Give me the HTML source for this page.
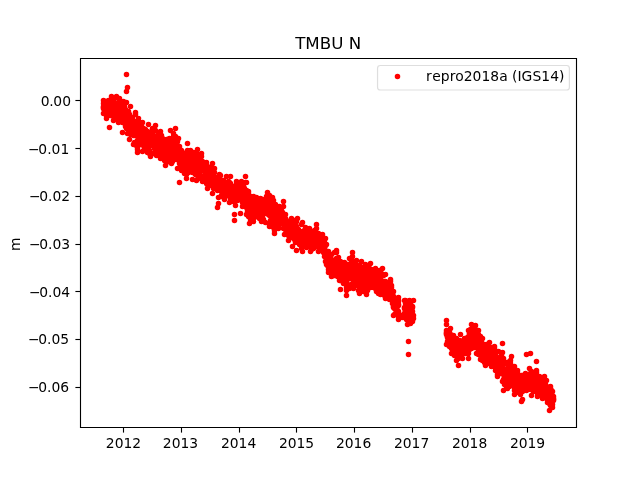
<!DOCTYPE html>
<html lang="en"><head><meta charset="utf-8"><title>TMBU N</title>
<style>
html,body{margin:0;padding:0;background:#fff}
body{width:640px;height:480px;overflow:hidden}
svg{display:block;will-change:transform}
text{font-family:"DejaVu Sans","Liberation Sans",sans-serif;fill:#000}
.t10{font-size:13.889px}
.t12{font-size:16.667px}
</style></head><body>
<svg width="640" height="480" viewBox="0 0 640 480">
<rect width="640" height="480" fill="#fff"/>
<defs><clipPath id="c"><rect x="80" y="57.6" width="496" height="369.6"/></clipPath></defs>
<g class="pt" clip-path="url(#c)" fill="#f00" stroke="#f00" stroke-width="1.389">
<circle cx="103.5" cy="103.5" r="2.08"/><circle cx="103.5" cy="107.5" r="2.08"/><circle cx="103.5" cy="108.5" r="2.08"/><circle cx="103.5" cy="106.5" r="2.08"/><circle cx="104.5" cy="110.5" r="2.08"/><circle cx="104.5" cy="106.5" r="2.08"/>
<circle cx="104.5" cy="104.5" r="2.08"/><circle cx="104.5" cy="107.5" r="2.08"/><circle cx="104.5" cy="109.5" r="2.08"/><circle cx="104.5" cy="108.5" r="2.08"/><circle cx="105.5" cy="110.5" r="2.08"/><circle cx="105.5" cy="109.5" r="2.08"/>
<circle cx="105.5" cy="104.5" r="2.08"/><circle cx="106.5" cy="108.5" r="2.08"/><circle cx="106.5" cy="111.5" r="2.08"/><circle cx="106.5" cy="115.5" r="2.08"/><circle cx="106.5" cy="109.5" r="2.08"/><circle cx="106.5" cy="113.5" r="2.08"/>
<circle cx="106.5" cy="103.5" r="2.08"/><circle cx="107.5" cy="107.5" r="2.08"/><circle cx="107.5" cy="110.5" r="2.08"/><circle cx="107.5" cy="103.5" r="2.08"/><circle cx="107.5" cy="106.5" r="2.08"/><circle cx="107.5" cy="111.5" r="2.08"/>
<circle cx="108.5" cy="110.5" r="2.08"/><circle cx="108.5" cy="107.5" r="2.08"/><circle cx="108.5" cy="106.5" r="2.08"/><circle cx="108.5" cy="115.5" r="2.08"/><circle cx="108.5" cy="112.5" r="2.08"/><circle cx="108.5" cy="114.5" r="2.08"/>
<circle cx="109.5" cy="103.5" r="2.08"/><circle cx="109.5" cy="113.5" r="2.08"/><circle cx="109.5" cy="112.5" r="2.08"/><circle cx="109.5" cy="110.5" r="2.08"/><circle cx="109.5" cy="104.5" r="2.08"/><circle cx="109.5" cy="107.5" r="2.08"/>
<circle cx="109.5" cy="111.5" r="2.08"/><circle cx="110.5" cy="104.5" r="2.08"/><circle cx="110.5" cy="107.5" r="2.08"/><circle cx="110.5" cy="105.5" r="2.08"/><circle cx="110.5" cy="115.5" r="2.08"/><circle cx="110.5" cy="109.5" r="2.08"/>
<circle cx="111.5" cy="104.5" r="2.08"/><circle cx="111.5" cy="106.5" r="2.08"/><circle cx="111.5" cy="115.5" r="2.08"/><circle cx="111.5" cy="114.5" r="2.08"/><circle cx="111.5" cy="110.5" r="2.08"/><circle cx="111.5" cy="113.5" r="2.08"/>
<circle cx="112.5" cy="107.5" r="2.08"/><circle cx="112.5" cy="108.5" r="2.08"/><circle cx="112.5" cy="114.5" r="2.08"/><circle cx="112.5" cy="105.5" r="2.08"/><circle cx="112.5" cy="112.5" r="2.08"/><circle cx="112.5" cy="100.5" r="2.08"/>
<circle cx="112.5" cy="111.5" r="2.08"/><circle cx="113.5" cy="116.5" r="2.08"/><circle cx="113.5" cy="111.5" r="2.08"/><circle cx="113.5" cy="100.5" r="2.08"/><circle cx="113.5" cy="114.5" r="2.08"/><circle cx="113.5" cy="109.5" r="2.08"/>
<circle cx="114.5" cy="107.5" r="2.08"/><circle cx="114.5" cy="103.5" r="2.08"/><circle cx="114.5" cy="114.5" r="2.08"/><circle cx="114.5" cy="108.5" r="2.08"/><circle cx="114.5" cy="113.5" r="2.08"/><circle cx="115.5" cy="104.5" r="2.08"/>
<circle cx="115.5" cy="107.5" r="2.08"/><circle cx="115.5" cy="109.5" r="2.08"/><circle cx="115.5" cy="110.5" r="2.08"/><circle cx="115.5" cy="113.5" r="2.08"/><circle cx="116.5" cy="112.5" r="2.08"/><circle cx="116.5" cy="111.5" r="2.08"/>
<circle cx="116.5" cy="109.5" r="2.08"/><circle cx="116.5" cy="106.5" r="2.08"/><circle cx="117.5" cy="117.5" r="2.08"/><circle cx="117.5" cy="114.5" r="2.08"/><circle cx="117.5" cy="108.5" r="2.08"/><circle cx="117.5" cy="112.5" r="2.08"/>
<circle cx="117.5" cy="119.5" r="2.08"/><circle cx="117.5" cy="116.5" r="2.08"/><circle cx="118.5" cy="102.5" r="2.08"/><circle cx="118.5" cy="107.5" r="2.08"/><circle cx="118.5" cy="110.5" r="2.08"/><circle cx="118.5" cy="109.5" r="2.08"/>
<circle cx="118.5" cy="103.5" r="2.08"/><circle cx="118.5" cy="114.5" r="2.08"/><circle cx="119.5" cy="112.5" r="2.08"/><circle cx="119.5" cy="107.5" r="2.08"/><circle cx="119.5" cy="118.5" r="2.08"/><circle cx="119.5" cy="110.5" r="2.08"/>
<circle cx="119.5" cy="114.5" r="2.08"/><circle cx="119.5" cy="108.5" r="2.08"/><circle cx="120.5" cy="107.5" r="2.08"/><circle cx="120.5" cy="119.5" r="2.08"/><circle cx="120.5" cy="111.5" r="2.08"/><circle cx="120.5" cy="112.5" r="2.08"/>
<circle cx="120.5" cy="117.5" r="2.08"/><circle cx="120.5" cy="110.5" r="2.08"/><circle cx="121.5" cy="116.5" r="2.08"/><circle cx="121.5" cy="111.5" r="2.08"/><circle cx="121.5" cy="115.5" r="2.08"/><circle cx="121.5" cy="117.5" r="2.08"/>
<circle cx="121.5" cy="112.5" r="2.08"/><circle cx="121.5" cy="102.5" r="2.08"/><circle cx="122.5" cy="113.5" r="2.08"/><circle cx="122.5" cy="114.5" r="2.08"/><circle cx="122.5" cy="122.5" r="2.08"/><circle cx="122.5" cy="120.5" r="2.08"/>
<circle cx="122.5" cy="116.5" r="2.08"/><circle cx="123.5" cy="118.5" r="2.08"/><circle cx="123.5" cy="109.5" r="2.08"/><circle cx="123.5" cy="117.5" r="2.08"/><circle cx="123.5" cy="104.5" r="2.08"/><circle cx="123.5" cy="116.5" r="2.08"/>
<circle cx="123.5" cy="120.5" r="2.08"/><circle cx="124.5" cy="113.5" r="2.08"/><circle cx="124.5" cy="106.5" r="2.08"/><circle cx="124.5" cy="121.5" r="2.08"/><circle cx="124.5" cy="118.5" r="2.08"/><circle cx="124.5" cy="115.5" r="2.08"/>
<circle cx="124.5" cy="110.5" r="2.08"/><circle cx="124.5" cy="116.5" r="2.08"/><circle cx="125.5" cy="126.5" r="2.08"/><circle cx="125.5" cy="115.5" r="2.08"/><circle cx="125.5" cy="124.5" r="2.08"/><circle cx="125.5" cy="109.5" r="2.08"/>
<circle cx="126.5" cy="116.5" r="2.08"/><circle cx="126.5" cy="128.5" r="2.08"/><circle cx="126.5" cy="111.5" r="2.08"/><circle cx="126.5" cy="123.5" r="2.08"/><circle cx="126.5" cy="115.5" r="2.08"/><circle cx="126.5" cy="124.5" r="2.08"/>
<circle cx="127.5" cy="133.5" r="2.08"/><circle cx="127.5" cy="124.5" r="2.08"/><circle cx="127.5" cy="115.5" r="2.08"/><circle cx="127.5" cy="121.5" r="2.08"/><circle cx="127.5" cy="119.5" r="2.08"/><circle cx="128.5" cy="111.5" r="2.08"/>
<circle cx="128.5" cy="113.5" r="2.08"/><circle cx="128.5" cy="119.5" r="2.08"/><circle cx="128.5" cy="125.5" r="2.08"/><circle cx="128.5" cy="128.5" r="2.08"/><circle cx="129.5" cy="128.5" r="2.08"/><circle cx="129.5" cy="114.5" r="2.08"/>
<circle cx="129.5" cy="127.5" r="2.08"/><circle cx="129.5" cy="116.5" r="2.08"/><circle cx="129.5" cy="119.5" r="2.08"/><circle cx="129.5" cy="117.5" r="2.08"/><circle cx="130.5" cy="119.5" r="2.08"/><circle cx="130.5" cy="120.5" r="2.08"/>
<circle cx="130.5" cy="132.5" r="2.08"/><circle cx="130.5" cy="134.5" r="2.08"/><circle cx="130.5" cy="124.5" r="2.08"/><circle cx="130.5" cy="125.5" r="2.08"/><circle cx="130.5" cy="126.5" r="2.08"/><circle cx="131.5" cy="126.5" r="2.08"/>
<circle cx="131.5" cy="128.5" r="2.08"/><circle cx="131.5" cy="117.5" r="2.08"/><circle cx="131.5" cy="125.5" r="2.08"/><circle cx="131.5" cy="127.5" r="2.08"/><circle cx="131.5" cy="122.5" r="2.08"/><circle cx="132.5" cy="127.5" r="2.08"/>
<circle cx="132.5" cy="119.5" r="2.08"/><circle cx="132.5" cy="117.5" r="2.08"/><circle cx="132.5" cy="122.5" r="2.08"/><circle cx="132.5" cy="124.5" r="2.08"/><circle cx="132.5" cy="131.5" r="2.08"/><circle cx="133.5" cy="133.5" r="2.08"/>
<circle cx="133.5" cy="123.5" r="2.08"/><circle cx="133.5" cy="124.5" r="2.08"/><circle cx="133.5" cy="135.5" r="2.08"/><circle cx="134.5" cy="121.5" r="2.08"/><circle cx="134.5" cy="135.5" r="2.08"/><circle cx="134.5" cy="131.5" r="2.08"/>
<circle cx="134.5" cy="142.5" r="2.08"/><circle cx="134.5" cy="126.5" r="2.08"/><circle cx="135.5" cy="128.5" r="2.08"/><circle cx="135.5" cy="133.5" r="2.08"/><circle cx="135.5" cy="127.5" r="2.08"/><circle cx="135.5" cy="114.5" r="2.08"/>
<circle cx="135.5" cy="129.5" r="2.08"/><circle cx="136.5" cy="124.5" r="2.08"/><circle cx="136.5" cy="131.5" r="2.08"/><circle cx="136.5" cy="128.5" r="2.08"/><circle cx="136.5" cy="132.5" r="2.08"/><circle cx="136.5" cy="134.5" r="2.08"/>
<circle cx="136.5" cy="145.5" r="2.08"/><circle cx="137.5" cy="145.5" r="2.08"/><circle cx="137.5" cy="146.5" r="2.08"/><circle cx="137.5" cy="147.5" r="2.08"/><circle cx="137.5" cy="149.5" r="2.08"/><circle cx="137.5" cy="140.5" r="2.08"/>
<circle cx="137.5" cy="124.5" r="2.08"/><circle cx="138.5" cy="139.5" r="2.08"/><circle cx="138.5" cy="137.5" r="2.08"/><circle cx="138.5" cy="131.5" r="2.08"/><circle cx="138.5" cy="130.5" r="2.08"/><circle cx="138.5" cy="138.5" r="2.08"/>
<circle cx="138.5" cy="121.5" r="2.08"/><circle cx="139.5" cy="139.5" r="2.08"/><circle cx="139.5" cy="135.5" r="2.08"/><circle cx="139.5" cy="132.5" r="2.08"/><circle cx="139.5" cy="128.5" r="2.08"/><circle cx="139.5" cy="140.5" r="2.08"/>
<circle cx="139.5" cy="136.5" r="2.08"/><circle cx="140.5" cy="129.5" r="2.08"/><circle cx="140.5" cy="130.5" r="2.08"/><circle cx="140.5" cy="134.5" r="2.08"/><circle cx="140.5" cy="144.5" r="2.08"/><circle cx="140.5" cy="123.5" r="2.08"/>
<circle cx="140.5" cy="141.5" r="2.08"/><circle cx="141.5" cy="130.5" r="2.08"/><circle cx="141.5" cy="137.5" r="2.08"/><circle cx="141.5" cy="133.5" r="2.08"/><circle cx="141.5" cy="135.5" r="2.08"/><circle cx="141.5" cy="131.5" r="2.08"/>
<circle cx="141.5" cy="125.5" r="2.08"/><circle cx="142.5" cy="128.5" r="2.08"/><circle cx="142.5" cy="143.5" r="2.08"/><circle cx="142.5" cy="138.5" r="2.08"/><circle cx="142.5" cy="130.5" r="2.08"/><circle cx="142.5" cy="140.5" r="2.08"/>
<circle cx="142.5" cy="135.5" r="2.08"/><circle cx="143.5" cy="133.5" r="2.08"/><circle cx="143.5" cy="134.5" r="2.08"/><circle cx="143.5" cy="145.5" r="2.08"/><circle cx="143.5" cy="132.5" r="2.08"/><circle cx="143.5" cy="135.5" r="2.08"/>
<circle cx="143.5" cy="128.5" r="2.08"/><circle cx="144.5" cy="145.5" r="2.08"/><circle cx="144.5" cy="136.5" r="2.08"/><circle cx="144.5" cy="148.5" r="2.08"/><circle cx="144.5" cy="143.5" r="2.08"/><circle cx="144.5" cy="130.5" r="2.08"/>
<circle cx="144.5" cy="147.5" r="2.08"/><circle cx="145.5" cy="139.5" r="2.08"/><circle cx="145.5" cy="141.5" r="2.08"/><circle cx="145.5" cy="132.5" r="2.08"/><circle cx="145.5" cy="129.5" r="2.08"/><circle cx="145.5" cy="142.5" r="2.08"/>
<circle cx="145.5" cy="140.5" r="2.08"/><circle cx="146.5" cy="138.5" r="2.08"/><circle cx="146.5" cy="150.5" r="2.08"/><circle cx="146.5" cy="137.5" r="2.08"/><circle cx="146.5" cy="133.5" r="2.08"/><circle cx="146.5" cy="142.5" r="2.08"/>
<circle cx="146.5" cy="139.5" r="2.08"/><circle cx="147.5" cy="138.5" r="2.08"/><circle cx="147.5" cy="136.5" r="2.08"/><circle cx="147.5" cy="151.5" r="2.08"/><circle cx="147.5" cy="131.5" r="2.08"/><circle cx="147.5" cy="152.5" r="2.08"/>
<circle cx="147.5" cy="134.5" r="2.08"/><circle cx="148.5" cy="146.5" r="2.08"/><circle cx="148.5" cy="134.5" r="2.08"/><circle cx="148.5" cy="133.5" r="2.08"/><circle cx="148.5" cy="140.5" r="2.08"/><circle cx="148.5" cy="144.5" r="2.08"/>
<circle cx="149.5" cy="150.5" r="2.08"/><circle cx="149.5" cy="151.5" r="2.08"/><circle cx="149.5" cy="140.5" r="2.08"/><circle cx="149.5" cy="141.5" r="2.08"/><circle cx="149.5" cy="153.5" r="2.08"/><circle cx="149.5" cy="135.5" r="2.08"/>
<circle cx="149.5" cy="145.5" r="2.08"/><circle cx="150.5" cy="142.5" r="2.08"/><circle cx="150.5" cy="133.5" r="2.08"/><circle cx="150.5" cy="137.5" r="2.08"/><circle cx="150.5" cy="145.5" r="2.08"/><circle cx="150.5" cy="132.5" r="2.08"/>
<circle cx="151.5" cy="145.5" r="2.08"/><circle cx="151.5" cy="141.5" r="2.08"/><circle cx="151.5" cy="137.5" r="2.08"/><circle cx="152.5" cy="138.5" r="2.08"/><circle cx="152.5" cy="144.5" r="2.08"/><circle cx="152.5" cy="128.5" r="2.08"/>
<circle cx="152.5" cy="129.5" r="2.08"/><circle cx="152.5" cy="142.5" r="2.08"/><circle cx="152.5" cy="153.5" r="2.08"/><circle cx="153.5" cy="140.5" r="2.08"/><circle cx="153.5" cy="136.5" r="2.08"/><circle cx="153.5" cy="131.5" r="2.08"/>
<circle cx="153.5" cy="138.5" r="2.08"/><circle cx="153.5" cy="144.5" r="2.08"/><circle cx="153.5" cy="153.5" r="2.08"/><circle cx="154.5" cy="142.5" r="2.08"/><circle cx="154.5" cy="137.5" r="2.08"/><circle cx="154.5" cy="140.5" r="2.08"/>
<circle cx="154.5" cy="144.5" r="2.08"/><circle cx="154.5" cy="148.5" r="2.08"/><circle cx="154.5" cy="138.5" r="2.08"/><circle cx="155.5" cy="138.5" r="2.08"/><circle cx="155.5" cy="149.5" r="2.08"/><circle cx="155.5" cy="142.5" r="2.08"/>
<circle cx="155.5" cy="130.5" r="2.08"/><circle cx="155.5" cy="144.5" r="2.08"/><circle cx="155.5" cy="137.5" r="2.08"/><circle cx="155.5" cy="140.5" r="2.08"/><circle cx="156.5" cy="136.5" r="2.08"/><circle cx="156.5" cy="141.5" r="2.08"/>
<circle cx="156.5" cy="143.5" r="2.08"/><circle cx="156.5" cy="144.5" r="2.08"/><circle cx="156.5" cy="155.5" r="2.08"/><circle cx="157.5" cy="138.5" r="2.08"/><circle cx="157.5" cy="143.5" r="2.08"/><circle cx="157.5" cy="153.5" r="2.08"/>
<circle cx="157.5" cy="145.5" r="2.08"/><circle cx="157.5" cy="135.5" r="2.08"/><circle cx="158.5" cy="148.5" r="2.08"/><circle cx="158.5" cy="153.5" r="2.08"/><circle cx="158.5" cy="135.5" r="2.08"/><circle cx="158.5" cy="134.5" r="2.08"/>
<circle cx="158.5" cy="143.5" r="2.08"/><circle cx="159.5" cy="144.5" r="2.08"/><circle cx="159.5" cy="148.5" r="2.08"/><circle cx="159.5" cy="138.5" r="2.08"/><circle cx="159.5" cy="137.5" r="2.08"/><circle cx="159.5" cy="133.5" r="2.08"/>
<circle cx="159.5" cy="145.5" r="2.08"/><circle cx="160.5" cy="150.5" r="2.08"/><circle cx="160.5" cy="144.5" r="2.08"/><circle cx="160.5" cy="156.5" r="2.08"/><circle cx="160.5" cy="141.5" r="2.08"/><circle cx="161.5" cy="150.5" r="2.08"/>
<circle cx="161.5" cy="135.5" r="2.08"/><circle cx="161.5" cy="146.5" r="2.08"/><circle cx="161.5" cy="137.5" r="2.08"/><circle cx="161.5" cy="156.5" r="2.08"/><circle cx="161.5" cy="142.5" r="2.08"/><circle cx="161.5" cy="151.5" r="2.08"/>
<circle cx="162.5" cy="138.5" r="2.08"/><circle cx="162.5" cy="147.5" r="2.08"/><circle cx="162.5" cy="150.5" r="2.08"/><circle cx="162.5" cy="146.5" r="2.08"/><circle cx="162.5" cy="152.5" r="2.08"/><circle cx="163.5" cy="149.5" r="2.08"/>
<circle cx="163.5" cy="140.5" r="2.08"/><circle cx="163.5" cy="148.5" r="2.08"/><circle cx="163.5" cy="143.5" r="2.08"/><circle cx="163.5" cy="139.5" r="2.08"/><circle cx="163.5" cy="145.5" r="2.08"/><circle cx="164.5" cy="149.5" r="2.08"/>
<circle cx="164.5" cy="153.5" r="2.08"/><circle cx="164.5" cy="155.5" r="2.08"/><circle cx="164.5" cy="147.5" r="2.08"/><circle cx="164.5" cy="160.5" r="2.08"/><circle cx="164.5" cy="152.5" r="2.08"/><circle cx="164.5" cy="142.5" r="2.08"/>
<circle cx="165.5" cy="144.5" r="2.08"/><circle cx="165.5" cy="150.5" r="2.08"/><circle cx="165.5" cy="153.5" r="2.08"/><circle cx="165.5" cy="152.5" r="2.08"/><circle cx="166.5" cy="151.5" r="2.08"/><circle cx="166.5" cy="162.5" r="2.08"/>
<circle cx="166.5" cy="157.5" r="2.08"/><circle cx="166.5" cy="159.5" r="2.08"/><circle cx="167.5" cy="159.5" r="2.08"/><circle cx="167.5" cy="153.5" r="2.08"/><circle cx="167.5" cy="155.5" r="2.08"/><circle cx="167.5" cy="150.5" r="2.08"/>
<circle cx="167.5" cy="144.5" r="2.08"/><circle cx="167.5" cy="139.5" r="2.08"/><circle cx="167.5" cy="151.5" r="2.08"/><circle cx="168.5" cy="147.5" r="2.08"/><circle cx="168.5" cy="150.5" r="2.08"/><circle cx="168.5" cy="154.5" r="2.08"/>
<circle cx="168.5" cy="141.5" r="2.08"/><circle cx="168.5" cy="140.5" r="2.08"/><circle cx="168.5" cy="157.5" r="2.08"/><circle cx="169.5" cy="151.5" r="2.08"/><circle cx="169.5" cy="147.5" r="2.08"/><circle cx="169.5" cy="145.5" r="2.08"/>
<circle cx="169.5" cy="139.5" r="2.08"/><circle cx="169.5" cy="138.5" r="2.08"/><circle cx="169.5" cy="143.5" r="2.08"/><circle cx="170.5" cy="150.5" r="2.08"/><circle cx="170.5" cy="139.5" r="2.08"/><circle cx="170.5" cy="143.5" r="2.08"/>
<circle cx="170.5" cy="149.5" r="2.08"/><circle cx="170.5" cy="148.5" r="2.08"/><circle cx="170.5" cy="160.5" r="2.08"/><circle cx="170.5" cy="156.5" r="2.08"/><circle cx="171.5" cy="150.5" r="2.08"/><circle cx="171.5" cy="151.5" r="2.08"/>
<circle cx="171.5" cy="144.5" r="2.08"/><circle cx="171.5" cy="146.5" r="2.08"/><circle cx="171.5" cy="149.5" r="2.08"/><circle cx="172.5" cy="154.5" r="2.08"/><circle cx="172.5" cy="155.5" r="2.08"/><circle cx="172.5" cy="161.5" r="2.08"/>
<circle cx="172.5" cy="139.5" r="2.08"/><circle cx="172.5" cy="144.5" r="2.08"/><circle cx="172.5" cy="148.5" r="2.08"/><circle cx="173.5" cy="143.5" r="2.08"/><circle cx="173.5" cy="136.5" r="2.08"/><circle cx="173.5" cy="155.5" r="2.08"/>
<circle cx="173.5" cy="152.5" r="2.08"/><circle cx="173.5" cy="139.5" r="2.08"/><circle cx="173.5" cy="151.5" r="2.08"/><circle cx="174.5" cy="159.5" r="2.08"/><circle cx="174.5" cy="153.5" r="2.08"/><circle cx="174.5" cy="148.5" r="2.08"/>
<circle cx="174.5" cy="146.5" r="2.08"/><circle cx="174.5" cy="151.5" r="2.08"/><circle cx="174.5" cy="149.5" r="2.08"/><circle cx="175.5" cy="140.5" r="2.08"/><circle cx="175.5" cy="136.5" r="2.08"/><circle cx="175.5" cy="155.5" r="2.08"/>
<circle cx="175.5" cy="142.5" r="2.08"/><circle cx="175.5" cy="145.5" r="2.08"/><circle cx="175.5" cy="138.5" r="2.08"/><circle cx="176.5" cy="148.5" r="2.08"/><circle cx="176.5" cy="156.5" r="2.08"/><circle cx="176.5" cy="141.5" r="2.08"/>
<circle cx="176.5" cy="154.5" r="2.08"/><circle cx="176.5" cy="147.5" r="2.08"/><circle cx="176.5" cy="139.5" r="2.08"/><circle cx="176.5" cy="159.5" r="2.08"/><circle cx="177.5" cy="151.5" r="2.08"/><circle cx="177.5" cy="141.5" r="2.08"/>
<circle cx="177.5" cy="159.5" r="2.08"/><circle cx="177.5" cy="145.5" r="2.08"/><circle cx="178.5" cy="153.5" r="2.08"/><circle cx="178.5" cy="149.5" r="2.08"/><circle cx="178.5" cy="154.5" r="2.08"/><circle cx="178.5" cy="156.5" r="2.08"/>
<circle cx="178.5" cy="152.5" r="2.08"/><circle cx="178.5" cy="159.5" r="2.08"/><circle cx="179.5" cy="146.5" r="2.08"/><circle cx="179.5" cy="148.5" r="2.08"/><circle cx="179.5" cy="163.5" r="2.08"/><circle cx="179.5" cy="150.5" r="2.08"/>
<circle cx="179.5" cy="157.5" r="2.08"/><circle cx="179.5" cy="155.5" r="2.08"/><circle cx="179.5" cy="154.5" r="2.08"/><circle cx="180.5" cy="159.5" r="2.08"/><circle cx="180.5" cy="161.5" r="2.08"/><circle cx="180.5" cy="165.5" r="2.08"/>
<circle cx="180.5" cy="158.5" r="2.08"/><circle cx="181.5" cy="157.5" r="2.08"/><circle cx="181.5" cy="156.5" r="2.08"/><circle cx="181.5" cy="160.5" r="2.08"/><circle cx="181.5" cy="153.5" r="2.08"/><circle cx="181.5" cy="158.5" r="2.08"/>
<circle cx="182.5" cy="158.5" r="2.08"/><circle cx="182.5" cy="152.5" r="2.08"/><circle cx="182.5" cy="157.5" r="2.08"/><circle cx="182.5" cy="165.5" r="2.08"/><circle cx="183.5" cy="163.5" r="2.08"/><circle cx="183.5" cy="164.5" r="2.08"/>
<circle cx="183.5" cy="166.5" r="2.08"/><circle cx="183.5" cy="162.5" r="2.08"/><circle cx="184.5" cy="160.5" r="2.08"/><circle cx="184.5" cy="168.5" r="2.08"/><circle cx="184.5" cy="164.5" r="2.08"/><circle cx="184.5" cy="163.5" r="2.08"/>
<circle cx="184.5" cy="173.5" r="2.08"/><circle cx="184.5" cy="166.5" r="2.08"/><circle cx="185.5" cy="159.5" r="2.08"/><circle cx="185.5" cy="156.5" r="2.08"/><circle cx="185.5" cy="160.5" r="2.08"/><circle cx="185.5" cy="162.5" r="2.08"/>
<circle cx="185.5" cy="164.5" r="2.08"/><circle cx="186.5" cy="165.5" r="2.08"/><circle cx="186.5" cy="154.5" r="2.08"/><circle cx="186.5" cy="168.5" r="2.08"/><circle cx="186.5" cy="174.5" r="2.08"/><circle cx="186.5" cy="156.5" r="2.08"/>
<circle cx="186.5" cy="158.5" r="2.08"/><circle cx="187.5" cy="158.5" r="2.08"/><circle cx="187.5" cy="160.5" r="2.08"/><circle cx="187.5" cy="166.5" r="2.08"/><circle cx="187.5" cy="161.5" r="2.08"/><circle cx="187.5" cy="162.5" r="2.08"/>
<circle cx="188.5" cy="161.5" r="2.08"/><circle cx="188.5" cy="160.5" r="2.08"/><circle cx="188.5" cy="156.5" r="2.08"/><circle cx="188.5" cy="165.5" r="2.08"/><circle cx="188.5" cy="162.5" r="2.08"/><circle cx="189.5" cy="156.5" r="2.08"/>
<circle cx="189.5" cy="164.5" r="2.08"/><circle cx="189.5" cy="157.5" r="2.08"/><circle cx="190.5" cy="169.5" r="2.08"/><circle cx="190.5" cy="158.5" r="2.08"/><circle cx="190.5" cy="156.5" r="2.08"/><circle cx="190.5" cy="166.5" r="2.08"/>
<circle cx="190.5" cy="164.5" r="2.08"/><circle cx="190.5" cy="165.5" r="2.08"/><circle cx="191.5" cy="168.5" r="2.08"/><circle cx="191.5" cy="167.5" r="2.08"/><circle cx="191.5" cy="152.5" r="2.08"/><circle cx="191.5" cy="160.5" r="2.08"/>
<circle cx="191.5" cy="170.5" r="2.08"/><circle cx="191.5" cy="171.5" r="2.08"/><circle cx="192.5" cy="166.5" r="2.08"/><circle cx="192.5" cy="172.5" r="2.08"/><circle cx="192.5" cy="164.5" r="2.08"/><circle cx="192.5" cy="162.5" r="2.08"/>
<circle cx="192.5" cy="160.5" r="2.08"/><circle cx="192.5" cy="163.5" r="2.08"/><circle cx="193.5" cy="161.5" r="2.08"/><circle cx="193.5" cy="164.5" r="2.08"/><circle cx="193.5" cy="152.5" r="2.08"/><circle cx="193.5" cy="160.5" r="2.08"/>
<circle cx="194.5" cy="154.5" r="2.08"/><circle cx="194.5" cy="161.5" r="2.08"/><circle cx="194.5" cy="172.5" r="2.08"/><circle cx="194.5" cy="160.5" r="2.08"/><circle cx="194.5" cy="166.5" r="2.08"/><circle cx="194.5" cy="156.5" r="2.08"/>
<circle cx="195.5" cy="163.5" r="2.08"/><circle cx="195.5" cy="168.5" r="2.08"/><circle cx="195.5" cy="174.5" r="2.08"/><circle cx="195.5" cy="158.5" r="2.08"/><circle cx="195.5" cy="154.5" r="2.08"/><circle cx="195.5" cy="165.5" r="2.08"/>
<circle cx="196.5" cy="159.5" r="2.08"/><circle cx="196.5" cy="161.5" r="2.08"/><circle cx="196.5" cy="168.5" r="2.08"/><circle cx="196.5" cy="153.5" r="2.08"/><circle cx="196.5" cy="162.5" r="2.08"/><circle cx="196.5" cy="171.5" r="2.08"/>
<circle cx="197.5" cy="168.5" r="2.08"/><circle cx="197.5" cy="164.5" r="2.08"/><circle cx="197.5" cy="175.5" r="2.08"/><circle cx="197.5" cy="174.5" r="2.08"/><circle cx="197.5" cy="166.5" r="2.08"/><circle cx="197.5" cy="157.5" r="2.08"/>
<circle cx="198.5" cy="171.5" r="2.08"/><circle cx="198.5" cy="169.5" r="2.08"/><circle cx="198.5" cy="177.5" r="2.08"/><circle cx="198.5" cy="166.5" r="2.08"/><circle cx="198.5" cy="178.5" r="2.08"/><circle cx="199.5" cy="155.5" r="2.08"/>
<circle cx="199.5" cy="170.5" r="2.08"/><circle cx="199.5" cy="159.5" r="2.08"/><circle cx="199.5" cy="169.5" r="2.08"/><circle cx="199.5" cy="156.5" r="2.08"/><circle cx="199.5" cy="167.5" r="2.08"/><circle cx="200.5" cy="163.5" r="2.08"/>
<circle cx="200.5" cy="171.5" r="2.08"/><circle cx="200.5" cy="159.5" r="2.08"/><circle cx="200.5" cy="165.5" r="2.08"/><circle cx="200.5" cy="162.5" r="2.08"/><circle cx="200.5" cy="166.5" r="2.08"/><circle cx="200.5" cy="169.5" r="2.08"/>
<circle cx="201.5" cy="166.5" r="2.08"/><circle cx="201.5" cy="169.5" r="2.08"/><circle cx="201.5" cy="168.5" r="2.08"/><circle cx="201.5" cy="176.5" r="2.08"/><circle cx="202.5" cy="167.5" r="2.08"/><circle cx="202.5" cy="161.5" r="2.08"/>
<circle cx="202.5" cy="168.5" r="2.08"/><circle cx="202.5" cy="163.5" r="2.08"/><circle cx="202.5" cy="166.5" r="2.08"/><circle cx="203.5" cy="163.5" r="2.08"/><circle cx="203.5" cy="168.5" r="2.08"/><circle cx="203.5" cy="170.5" r="2.08"/>
<circle cx="203.5" cy="167.5" r="2.08"/><circle cx="203.5" cy="169.5" r="2.08"/><circle cx="204.5" cy="166.5" r="2.08"/><circle cx="204.5" cy="167.5" r="2.08"/><circle cx="204.5" cy="179.5" r="2.08"/><circle cx="204.5" cy="171.5" r="2.08"/>
<circle cx="204.5" cy="169.5" r="2.08"/><circle cx="204.5" cy="175.5" r="2.08"/><circle cx="205.5" cy="179.5" r="2.08"/><circle cx="205.5" cy="168.5" r="2.08"/><circle cx="205.5" cy="167.5" r="2.08"/><circle cx="206.5" cy="183.5" r="2.08"/>
<circle cx="206.5" cy="171.5" r="2.08"/><circle cx="206.5" cy="178.5" r="2.08"/><circle cx="206.5" cy="180.5" r="2.08"/><circle cx="206.5" cy="179.5" r="2.08"/><circle cx="206.5" cy="176.5" r="2.08"/><circle cx="206.5" cy="181.5" r="2.08"/>
<circle cx="207.5" cy="178.5" r="2.08"/><circle cx="207.5" cy="176.5" r="2.08"/><circle cx="207.5" cy="166.5" r="2.08"/><circle cx="207.5" cy="174.5" r="2.08"/><circle cx="207.5" cy="184.5" r="2.08"/><circle cx="208.5" cy="177.5" r="2.08"/>
<circle cx="208.5" cy="176.5" r="2.08"/><circle cx="208.5" cy="167.5" r="2.08"/><circle cx="208.5" cy="169.5" r="2.08"/><circle cx="208.5" cy="172.5" r="2.08"/><circle cx="209.5" cy="167.5" r="2.08"/><circle cx="209.5" cy="180.5" r="2.08"/>
<circle cx="209.5" cy="174.5" r="2.08"/><circle cx="209.5" cy="182.5" r="2.08"/><circle cx="209.5" cy="179.5" r="2.08"/><circle cx="209.5" cy="175.5" r="2.08"/><circle cx="210.5" cy="172.5" r="2.08"/><circle cx="210.5" cy="173.5" r="2.08"/>
<circle cx="210.5" cy="175.5" r="2.08"/><circle cx="210.5" cy="180.5" r="2.08"/><circle cx="210.5" cy="174.5" r="2.08"/><circle cx="211.5" cy="176.5" r="2.08"/><circle cx="211.5" cy="181.5" r="2.08"/><circle cx="211.5" cy="174.5" r="2.08"/>
<circle cx="211.5" cy="185.5" r="2.08"/><circle cx="211.5" cy="168.5" r="2.08"/><circle cx="212.5" cy="175.5" r="2.08"/><circle cx="212.5" cy="177.5" r="2.08"/><circle cx="212.5" cy="179.5" r="2.08"/><circle cx="212.5" cy="169.5" r="2.08"/>
<circle cx="212.5" cy="180.5" r="2.08"/><circle cx="212.5" cy="178.5" r="2.08"/><circle cx="213.5" cy="180.5" r="2.08"/><circle cx="213.5" cy="188.5" r="2.08"/><circle cx="213.5" cy="182.5" r="2.08"/><circle cx="213.5" cy="179.5" r="2.08"/>
<circle cx="213.5" cy="174.5" r="2.08"/><circle cx="214.5" cy="181.5" r="2.08"/><circle cx="214.5" cy="188.5" r="2.08"/><circle cx="214.5" cy="187.5" r="2.08"/><circle cx="214.5" cy="172.5" r="2.08"/><circle cx="214.5" cy="178.5" r="2.08"/>
<circle cx="214.5" cy="185.5" r="2.08"/><circle cx="215.5" cy="182.5" r="2.08"/><circle cx="215.5" cy="181.5" r="2.08"/><circle cx="215.5" cy="188.5" r="2.08"/><circle cx="215.5" cy="178.5" r="2.08"/><circle cx="216.5" cy="182.5" r="2.08"/>
<circle cx="216.5" cy="188.5" r="2.08"/><circle cx="216.5" cy="183.5" r="2.08"/><circle cx="216.5" cy="177.5" r="2.08"/><circle cx="216.5" cy="181.5" r="2.08"/><circle cx="217.5" cy="182.5" r="2.08"/><circle cx="217.5" cy="190.5" r="2.08"/>
<circle cx="217.5" cy="187.5" r="2.08"/><circle cx="217.5" cy="186.5" r="2.08"/><circle cx="218.5" cy="180.5" r="2.08"/><circle cx="218.5" cy="184.5" r="2.08"/><circle cx="218.5" cy="188.5" r="2.08"/><circle cx="218.5" cy="186.5" r="2.08"/>
<circle cx="218.5" cy="177.5" r="2.08"/><circle cx="219.5" cy="177.5" r="2.08"/><circle cx="219.5" cy="189.5" r="2.08"/><circle cx="219.5" cy="184.5" r="2.08"/><circle cx="219.5" cy="185.5" r="2.08"/><circle cx="219.5" cy="187.5" r="2.08"/>
<circle cx="219.5" cy="182.5" r="2.08"/><circle cx="220.5" cy="189.5" r="2.08"/><circle cx="220.5" cy="184.5" r="2.08"/><circle cx="220.5" cy="188.5" r="2.08"/><circle cx="220.5" cy="180.5" r="2.08"/><circle cx="220.5" cy="181.5" r="2.08"/>
<circle cx="221.5" cy="185.5" r="2.08"/><circle cx="221.5" cy="191.5" r="2.08"/><circle cx="221.5" cy="190.5" r="2.08"/><circle cx="221.5" cy="195.5" r="2.08"/><circle cx="221.5" cy="196.5" r="2.08"/><circle cx="222.5" cy="183.5" r="2.08"/>
<circle cx="222.5" cy="187.5" r="2.08"/><circle cx="222.5" cy="181.5" r="2.08"/><circle cx="222.5" cy="185.5" r="2.08"/><circle cx="222.5" cy="191.5" r="2.08"/><circle cx="222.5" cy="192.5" r="2.08"/><circle cx="223.5" cy="191.5" r="2.08"/>
<circle cx="223.5" cy="189.5" r="2.08"/><circle cx="223.5" cy="180.5" r="2.08"/><circle cx="223.5" cy="185.5" r="2.08"/><circle cx="223.5" cy="190.5" r="2.08"/><circle cx="223.5" cy="182.5" r="2.08"/><circle cx="224.5" cy="189.5" r="2.08"/>
<circle cx="224.5" cy="185.5" r="2.08"/><circle cx="224.5" cy="184.5" r="2.08"/><circle cx="224.5" cy="190.5" r="2.08"/><circle cx="224.5" cy="188.5" r="2.08"/><circle cx="225.5" cy="184.5" r="2.08"/><circle cx="225.5" cy="191.5" r="2.08"/>
<circle cx="225.5" cy="196.5" r="2.08"/><circle cx="225.5" cy="185.5" r="2.08"/><circle cx="225.5" cy="192.5" r="2.08"/><circle cx="226.5" cy="185.5" r="2.08"/><circle cx="226.5" cy="190.5" r="2.08"/><circle cx="226.5" cy="192.5" r="2.08"/>
<circle cx="226.5" cy="184.5" r="2.08"/><circle cx="226.5" cy="189.5" r="2.08"/><circle cx="226.5" cy="183.5" r="2.08"/><circle cx="227.5" cy="188.5" r="2.08"/><circle cx="227.5" cy="191.5" r="2.08"/><circle cx="227.5" cy="187.5" r="2.08"/>
<circle cx="227.5" cy="185.5" r="2.08"/><circle cx="227.5" cy="194.5" r="2.08"/><circle cx="228.5" cy="190.5" r="2.08"/><circle cx="228.5" cy="181.5" r="2.08"/><circle cx="228.5" cy="191.5" r="2.08"/><circle cx="228.5" cy="188.5" r="2.08"/>
<circle cx="228.5" cy="189.5" r="2.08"/><circle cx="229.5" cy="188.5" r="2.08"/><circle cx="229.5" cy="182.5" r="2.08"/><circle cx="229.5" cy="192.5" r="2.08"/><circle cx="229.5" cy="190.5" r="2.08"/><circle cx="229.5" cy="193.5" r="2.08"/>
<circle cx="230.5" cy="184.5" r="2.08"/><circle cx="230.5" cy="198.5" r="2.08"/><circle cx="230.5" cy="183.5" r="2.08"/><circle cx="230.5" cy="190.5" r="2.08"/><circle cx="231.5" cy="194.5" r="2.08"/><circle cx="231.5" cy="193.5" r="2.08"/>
<circle cx="231.5" cy="192.5" r="2.08"/><circle cx="231.5" cy="188.5" r="2.08"/><circle cx="231.5" cy="190.5" r="2.08"/><circle cx="231.5" cy="198.5" r="2.08"/><circle cx="232.5" cy="187.5" r="2.08"/><circle cx="232.5" cy="196.5" r="2.08"/>
<circle cx="232.5" cy="197.5" r="2.08"/><circle cx="233.5" cy="192.5" r="2.08"/><circle cx="233.5" cy="186.5" r="2.08"/><circle cx="233.5" cy="187.5" r="2.08"/><circle cx="233.5" cy="193.5" r="2.08"/><circle cx="233.5" cy="201.5" r="2.08"/>
<circle cx="234.5" cy="197.5" r="2.08"/><circle cx="234.5" cy="192.5" r="2.08"/><circle cx="234.5" cy="193.5" r="2.08"/><circle cx="234.5" cy="196.5" r="2.08"/><circle cx="234.5" cy="186.5" r="2.08"/><circle cx="234.5" cy="188.5" r="2.08"/>
<circle cx="235.5" cy="192.5" r="2.08"/><circle cx="235.5" cy="186.5" r="2.08"/><circle cx="235.5" cy="198.5" r="2.08"/><circle cx="235.5" cy="196.5" r="2.08"/><circle cx="235.5" cy="193.5" r="2.08"/><circle cx="236.5" cy="197.5" r="2.08"/>
<circle cx="236.5" cy="193.5" r="2.08"/><circle cx="236.5" cy="191.5" r="2.08"/><circle cx="236.5" cy="184.5" r="2.08"/><circle cx="236.5" cy="196.5" r="2.08"/><circle cx="237.5" cy="198.5" r="2.08"/><circle cx="237.5" cy="190.5" r="2.08"/>
<circle cx="237.5" cy="192.5" r="2.08"/><circle cx="237.5" cy="200.5" r="2.08"/><circle cx="237.5" cy="196.5" r="2.08"/><circle cx="237.5" cy="185.5" r="2.08"/><circle cx="238.5" cy="193.5" r="2.08"/><circle cx="238.5" cy="192.5" r="2.08"/>
<circle cx="238.5" cy="186.5" r="2.08"/><circle cx="238.5" cy="191.5" r="2.08"/><circle cx="238.5" cy="199.5" r="2.08"/><circle cx="239.5" cy="195.5" r="2.08"/><circle cx="239.5" cy="189.5" r="2.08"/><circle cx="239.5" cy="188.5" r="2.08"/>
<circle cx="239.5" cy="194.5" r="2.08"/><circle cx="240.5" cy="196.5" r="2.08"/><circle cx="240.5" cy="198.5" r="2.08"/><circle cx="240.5" cy="187.5" r="2.08"/><circle cx="240.5" cy="184.5" r="2.08"/><circle cx="240.5" cy="197.5" r="2.08"/>
<circle cx="240.5" cy="188.5" r="2.08"/><circle cx="241.5" cy="192.5" r="2.08"/><circle cx="241.5" cy="196.5" r="2.08"/><circle cx="241.5" cy="193.5" r="2.08"/><circle cx="241.5" cy="191.5" r="2.08"/><circle cx="241.5" cy="198.5" r="2.08"/>
<circle cx="241.5" cy="195.5" r="2.08"/><circle cx="242.5" cy="197.5" r="2.08"/><circle cx="242.5" cy="201.5" r="2.08"/><circle cx="242.5" cy="196.5" r="2.08"/><circle cx="242.5" cy="202.5" r="2.08"/><circle cx="242.5" cy="187.5" r="2.08"/>
<circle cx="242.5" cy="198.5" r="2.08"/><circle cx="243.5" cy="194.5" r="2.08"/><circle cx="243.5" cy="202.5" r="2.08"/><circle cx="243.5" cy="205.5" r="2.08"/><circle cx="243.5" cy="187.5" r="2.08"/><circle cx="243.5" cy="203.5" r="2.08"/>
<circle cx="243.5" cy="186.5" r="2.08"/><circle cx="243.5" cy="197.5" r="2.08"/><circle cx="244.5" cy="190.5" r="2.08"/><circle cx="244.5" cy="203.5" r="2.08"/><circle cx="244.5" cy="194.5" r="2.08"/><circle cx="244.5" cy="200.5" r="2.08"/>
<circle cx="244.5" cy="188.5" r="2.08"/><circle cx="245.5" cy="204.5" r="2.08"/><circle cx="245.5" cy="182.5" r="2.08"/><circle cx="245.5" cy="196.5" r="2.08"/><circle cx="245.5" cy="202.5" r="2.08"/><circle cx="245.5" cy="195.5" r="2.08"/>
<circle cx="246.5" cy="190.5" r="2.08"/><circle cx="246.5" cy="206.5" r="2.08"/><circle cx="246.5" cy="199.5" r="2.08"/><circle cx="246.5" cy="207.5" r="2.08"/><circle cx="246.5" cy="202.5" r="2.08"/><circle cx="246.5" cy="195.5" r="2.08"/>
<circle cx="247.5" cy="207.5" r="2.08"/><circle cx="247.5" cy="204.5" r="2.08"/><circle cx="247.5" cy="209.5" r="2.08"/><circle cx="247.5" cy="198.5" r="2.08"/><circle cx="247.5" cy="211.5" r="2.08"/><circle cx="248.5" cy="202.5" r="2.08"/>
<circle cx="248.5" cy="193.5" r="2.08"/><circle cx="248.5" cy="216.5" r="2.08"/><circle cx="248.5" cy="209.5" r="2.08"/><circle cx="248.5" cy="213.5" r="2.08"/><circle cx="249.5" cy="204.5" r="2.08"/><circle cx="249.5" cy="206.5" r="2.08"/>
<circle cx="249.5" cy="198.5" r="2.08"/><circle cx="249.5" cy="211.5" r="2.08"/><circle cx="249.5" cy="208.5" r="2.08"/><circle cx="250.5" cy="219.5" r="2.08"/><circle cx="250.5" cy="196.5" r="2.08"/><circle cx="250.5" cy="208.5" r="2.08"/>
<circle cx="250.5" cy="207.5" r="2.08"/><circle cx="250.5" cy="209.5" r="2.08"/><circle cx="251.5" cy="204.5" r="2.08"/><circle cx="251.5" cy="210.5" r="2.08"/><circle cx="251.5" cy="211.5" r="2.08"/><circle cx="251.5" cy="214.5" r="2.08"/>
<circle cx="252.5" cy="201.5" r="2.08"/><circle cx="252.5" cy="216.5" r="2.08"/><circle cx="252.5" cy="208.5" r="2.08"/><circle cx="252.5" cy="206.5" r="2.08"/><circle cx="252.5" cy="209.5" r="2.08"/><circle cx="252.5" cy="205.5" r="2.08"/>
<circle cx="252.5" cy="204.5" r="2.08"/><circle cx="253.5" cy="209.5" r="2.08"/><circle cx="253.5" cy="208.5" r="2.08"/><circle cx="253.5" cy="218.5" r="2.08"/><circle cx="253.5" cy="207.5" r="2.08"/><circle cx="253.5" cy="205.5" r="2.08"/>
<circle cx="254.5" cy="203.5" r="2.08"/><circle cx="254.5" cy="216.5" r="2.08"/><circle cx="254.5" cy="201.5" r="2.08"/><circle cx="254.5" cy="213.5" r="2.08"/><circle cx="254.5" cy="204.5" r="2.08"/><circle cx="254.5" cy="210.5" r="2.08"/>
<circle cx="255.5" cy="208.5" r="2.08"/><circle cx="255.5" cy="213.5" r="2.08"/><circle cx="255.5" cy="212.5" r="2.08"/><circle cx="255.5" cy="202.5" r="2.08"/><circle cx="255.5" cy="206.5" r="2.08"/><circle cx="255.5" cy="203.5" r="2.08"/>
<circle cx="255.5" cy="214.5" r="2.08"/><circle cx="256.5" cy="209.5" r="2.08"/><circle cx="256.5" cy="204.5" r="2.08"/><circle cx="256.5" cy="212.5" r="2.08"/><circle cx="256.5" cy="205.5" r="2.08"/><circle cx="256.5" cy="202.5" r="2.08"/>
<circle cx="257.5" cy="211.5" r="2.08"/><circle cx="257.5" cy="203.5" r="2.08"/><circle cx="257.5" cy="205.5" r="2.08"/><circle cx="257.5" cy="206.5" r="2.08"/><circle cx="257.5" cy="210.5" r="2.08"/><circle cx="258.5" cy="211.5" r="2.08"/>
<circle cx="258.5" cy="217.5" r="2.08"/><circle cx="258.5" cy="213.5" r="2.08"/><circle cx="258.5" cy="199.5" r="2.08"/><circle cx="258.5" cy="207.5" r="2.08"/><circle cx="258.5" cy="216.5" r="2.08"/><circle cx="258.5" cy="206.5" r="2.08"/>
<circle cx="259.5" cy="216.5" r="2.08"/><circle cx="259.5" cy="210.5" r="2.08"/><circle cx="259.5" cy="204.5" r="2.08"/><circle cx="259.5" cy="211.5" r="2.08"/><circle cx="259.5" cy="218.5" r="2.08"/><circle cx="259.5" cy="206.5" r="2.08"/>
<circle cx="260.5" cy="211.5" r="2.08"/><circle cx="260.5" cy="206.5" r="2.08"/><circle cx="260.5" cy="207.5" r="2.08"/><circle cx="260.5" cy="218.5" r="2.08"/><circle cx="260.5" cy="210.5" r="2.08"/><circle cx="261.5" cy="210.5" r="2.08"/>
<circle cx="261.5" cy="219.5" r="2.08"/><circle cx="261.5" cy="204.5" r="2.08"/><circle cx="261.5" cy="201.5" r="2.08"/><circle cx="261.5" cy="206.5" r="2.08"/><circle cx="261.5" cy="202.5" r="2.08"/><circle cx="262.5" cy="216.5" r="2.08"/>
<circle cx="262.5" cy="206.5" r="2.08"/><circle cx="262.5" cy="199.5" r="2.08"/><circle cx="262.5" cy="211.5" r="2.08"/><circle cx="262.5" cy="212.5" r="2.08"/><circle cx="262.5" cy="220.5" r="2.08"/><circle cx="263.5" cy="201.5" r="2.08"/>
<circle cx="263.5" cy="203.5" r="2.08"/><circle cx="263.5" cy="207.5" r="2.08"/><circle cx="263.5" cy="219.5" r="2.08"/><circle cx="263.5" cy="208.5" r="2.08"/><circle cx="263.5" cy="205.5" r="2.08"/><circle cx="264.5" cy="201.5" r="2.08"/>
<circle cx="264.5" cy="209.5" r="2.08"/><circle cx="264.5" cy="212.5" r="2.08"/><circle cx="264.5" cy="213.5" r="2.08"/><circle cx="264.5" cy="205.5" r="2.08"/><circle cx="264.5" cy="211.5" r="2.08"/><circle cx="265.5" cy="206.5" r="2.08"/>
<circle cx="265.5" cy="207.5" r="2.08"/><circle cx="265.5" cy="209.5" r="2.08"/><circle cx="265.5" cy="222.5" r="2.08"/><circle cx="265.5" cy="212.5" r="2.08"/><circle cx="265.5" cy="201.5" r="2.08"/><circle cx="266.5" cy="208.5" r="2.08"/>
<circle cx="266.5" cy="207.5" r="2.08"/><circle cx="266.5" cy="199.5" r="2.08"/><circle cx="266.5" cy="196.5" r="2.08"/><circle cx="266.5" cy="202.5" r="2.08"/><circle cx="266.5" cy="213.5" r="2.08"/><circle cx="267.5" cy="211.5" r="2.08"/>
<circle cx="267.5" cy="209.5" r="2.08"/><circle cx="267.5" cy="210.5" r="2.08"/><circle cx="267.5" cy="198.5" r="2.08"/><circle cx="267.5" cy="202.5" r="2.08"/><circle cx="267.5" cy="201.5" r="2.08"/><circle cx="268.5" cy="212.5" r="2.08"/>
<circle cx="268.5" cy="205.5" r="2.08"/><circle cx="268.5" cy="208.5" r="2.08"/><circle cx="268.5" cy="214.5" r="2.08"/><circle cx="268.5" cy="201.5" r="2.08"/><circle cx="269.5" cy="224.5" r="2.08"/><circle cx="269.5" cy="197.5" r="2.08"/>
<circle cx="269.5" cy="212.5" r="2.08"/><circle cx="269.5" cy="215.5" r="2.08"/><circle cx="269.5" cy="223.5" r="2.08"/><circle cx="269.5" cy="203.5" r="2.08"/><circle cx="270.5" cy="211.5" r="2.08"/><circle cx="270.5" cy="201.5" r="2.08"/>
<circle cx="270.5" cy="212.5" r="2.08"/><circle cx="270.5" cy="213.5" r="2.08"/><circle cx="270.5" cy="215.5" r="2.08"/><circle cx="270.5" cy="220.5" r="2.08"/><circle cx="271.5" cy="219.5" r="2.08"/><circle cx="271.5" cy="221.5" r="2.08"/>
<circle cx="271.5" cy="216.5" r="2.08"/><circle cx="271.5" cy="205.5" r="2.08"/><circle cx="271.5" cy="213.5" r="2.08"/><circle cx="272.5" cy="209.5" r="2.08"/><circle cx="272.5" cy="218.5" r="2.08"/><circle cx="272.5" cy="217.5" r="2.08"/>
<circle cx="272.5" cy="210.5" r="2.08"/><circle cx="272.5" cy="208.5" r="2.08"/><circle cx="272.5" cy="215.5" r="2.08"/><circle cx="273.5" cy="204.5" r="2.08"/><circle cx="273.5" cy="224.5" r="2.08"/><circle cx="273.5" cy="220.5" r="2.08"/>
<circle cx="273.5" cy="227.5" r="2.08"/><circle cx="273.5" cy="225.5" r="2.08"/><circle cx="273.5" cy="226.5" r="2.08"/><circle cx="273.5" cy="210.5" r="2.08"/><circle cx="274.5" cy="210.5" r="2.08"/><circle cx="274.5" cy="204.5" r="2.08"/>
<circle cx="274.5" cy="213.5" r="2.08"/><circle cx="274.5" cy="215.5" r="2.08"/><circle cx="274.5" cy="230.5" r="2.08"/><circle cx="274.5" cy="216.5" r="2.08"/><circle cx="275.5" cy="204.5" r="2.08"/><circle cx="275.5" cy="217.5" r="2.08"/>
<circle cx="275.5" cy="219.5" r="2.08"/><circle cx="275.5" cy="216.5" r="2.08"/><circle cx="275.5" cy="211.5" r="2.08"/><circle cx="275.5" cy="218.5" r="2.08"/><circle cx="276.5" cy="219.5" r="2.08"/><circle cx="276.5" cy="226.5" r="2.08"/>
<circle cx="276.5" cy="209.5" r="2.08"/><circle cx="276.5" cy="220.5" r="2.08"/><circle cx="276.5" cy="211.5" r="2.08"/><circle cx="277.5" cy="225.5" r="2.08"/><circle cx="277.5" cy="216.5" r="2.08"/><circle cx="277.5" cy="222.5" r="2.08"/>
<circle cx="277.5" cy="221.5" r="2.08"/><circle cx="277.5" cy="217.5" r="2.08"/><circle cx="278.5" cy="221.5" r="2.08"/><circle cx="278.5" cy="216.5" r="2.08"/><circle cx="278.5" cy="209.5" r="2.08"/><circle cx="278.5" cy="217.5" r="2.08"/>
<circle cx="278.5" cy="225.5" r="2.08"/><circle cx="278.5" cy="210.5" r="2.08"/><circle cx="279.5" cy="224.5" r="2.08"/><circle cx="279.5" cy="220.5" r="2.08"/><circle cx="279.5" cy="216.5" r="2.08"/><circle cx="279.5" cy="217.5" r="2.08"/>
<circle cx="279.5" cy="215.5" r="2.08"/><circle cx="279.5" cy="223.5" r="2.08"/><circle cx="279.5" cy="219.5" r="2.08"/><circle cx="280.5" cy="215.5" r="2.08"/><circle cx="280.5" cy="211.5" r="2.08"/><circle cx="280.5" cy="221.5" r="2.08"/>
<circle cx="280.5" cy="216.5" r="2.08"/><circle cx="280.5" cy="223.5" r="2.08"/><circle cx="281.5" cy="223.5" r="2.08"/><circle cx="281.5" cy="212.5" r="2.08"/><circle cx="281.5" cy="221.5" r="2.08"/><circle cx="281.5" cy="210.5" r="2.08"/>
<circle cx="281.5" cy="220.5" r="2.08"/><circle cx="281.5" cy="219.5" r="2.08"/><circle cx="282.5" cy="214.5" r="2.08"/><circle cx="282.5" cy="213.5" r="2.08"/><circle cx="282.5" cy="218.5" r="2.08"/><circle cx="282.5" cy="212.5" r="2.08"/>
<circle cx="282.5" cy="219.5" r="2.08"/><circle cx="282.5" cy="222.5" r="2.08"/><circle cx="283.5" cy="214.5" r="2.08"/><circle cx="283.5" cy="218.5" r="2.08"/><circle cx="283.5" cy="228.5" r="2.08"/><circle cx="283.5" cy="223.5" r="2.08"/>
<circle cx="283.5" cy="220.5" r="2.08"/><circle cx="284.5" cy="228.5" r="2.08"/><circle cx="284.5" cy="225.5" r="2.08"/><circle cx="284.5" cy="222.5" r="2.08"/><circle cx="284.5" cy="226.5" r="2.08"/><circle cx="284.5" cy="224.5" r="2.08"/>
<circle cx="285.5" cy="225.5" r="2.08"/><circle cx="285.5" cy="218.5" r="2.08"/><circle cx="285.5" cy="221.5" r="2.08"/><circle cx="285.5" cy="222.5" r="2.08"/><circle cx="285.5" cy="229.5" r="2.08"/><circle cx="286.5" cy="230.5" r="2.08"/>
<circle cx="286.5" cy="231.5" r="2.08"/><circle cx="286.5" cy="225.5" r="2.08"/><circle cx="286.5" cy="227.5" r="2.08"/><circle cx="286.5" cy="228.5" r="2.08"/><circle cx="287.5" cy="228.5" r="2.08"/><circle cx="287.5" cy="230.5" r="2.08"/>
<circle cx="288.5" cy="226.5" r="2.08"/><circle cx="288.5" cy="235.5" r="2.08"/><circle cx="288.5" cy="228.5" r="2.08"/><circle cx="288.5" cy="222.5" r="2.08"/><circle cx="288.5" cy="231.5" r="2.08"/><circle cx="288.5" cy="234.5" r="2.08"/>
<circle cx="288.5" cy="223.5" r="2.08"/><circle cx="289.5" cy="226.5" r="2.08"/><circle cx="289.5" cy="231.5" r="2.08"/><circle cx="289.5" cy="236.5" r="2.08"/><circle cx="289.5" cy="233.5" r="2.08"/><circle cx="289.5" cy="232.5" r="2.08"/>
<circle cx="289.5" cy="229.5" r="2.08"/><circle cx="290.5" cy="229.5" r="2.08"/><circle cx="290.5" cy="220.5" r="2.08"/><circle cx="290.5" cy="232.5" r="2.08"/><circle cx="290.5" cy="231.5" r="2.08"/><circle cx="290.5" cy="228.5" r="2.08"/>
<circle cx="290.5" cy="223.5" r="2.08"/><circle cx="291.5" cy="227.5" r="2.08"/><circle cx="291.5" cy="229.5" r="2.08"/><circle cx="291.5" cy="225.5" r="2.08"/><circle cx="291.5" cy="220.5" r="2.08"/><circle cx="291.5" cy="237.5" r="2.08"/>
<circle cx="291.5" cy="230.5" r="2.08"/><circle cx="291.5" cy="233.5" r="2.08"/><circle cx="292.5" cy="235.5" r="2.08"/><circle cx="292.5" cy="233.5" r="2.08"/><circle cx="292.5" cy="229.5" r="2.08"/><circle cx="292.5" cy="237.5" r="2.08"/>
<circle cx="293.5" cy="227.5" r="2.08"/><circle cx="293.5" cy="224.5" r="2.08"/><circle cx="293.5" cy="223.5" r="2.08"/><circle cx="293.5" cy="235.5" r="2.08"/><circle cx="293.5" cy="236.5" r="2.08"/><circle cx="293.5" cy="229.5" r="2.08"/>
<circle cx="294.5" cy="223.5" r="2.08"/><circle cx="294.5" cy="220.5" r="2.08"/><circle cx="294.5" cy="234.5" r="2.08"/><circle cx="294.5" cy="239.5" r="2.08"/><circle cx="294.5" cy="232.5" r="2.08"/><circle cx="295.5" cy="232.5" r="2.08"/>
<circle cx="295.5" cy="223.5" r="2.08"/><circle cx="295.5" cy="228.5" r="2.08"/><circle cx="295.5" cy="242.5" r="2.08"/><circle cx="295.5" cy="224.5" r="2.08"/><circle cx="296.5" cy="226.5" r="2.08"/><circle cx="296.5" cy="241.5" r="2.08"/>
<circle cx="296.5" cy="230.5" r="2.08"/><circle cx="296.5" cy="239.5" r="2.08"/><circle cx="296.5" cy="221.5" r="2.08"/><circle cx="296.5" cy="234.5" r="2.08"/><circle cx="297.5" cy="239.5" r="2.08"/><circle cx="297.5" cy="233.5" r="2.08"/>
<circle cx="297.5" cy="229.5" r="2.08"/><circle cx="297.5" cy="234.5" r="2.08"/><circle cx="297.5" cy="235.5" r="2.08"/><circle cx="298.5" cy="232.5" r="2.08"/><circle cx="298.5" cy="241.5" r="2.08"/><circle cx="298.5" cy="233.5" r="2.08"/>
<circle cx="298.5" cy="240.5" r="2.08"/><circle cx="298.5" cy="229.5" r="2.08"/><circle cx="299.5" cy="235.5" r="2.08"/><circle cx="299.5" cy="243.5" r="2.08"/><circle cx="299.5" cy="244.5" r="2.08"/><circle cx="299.5" cy="232.5" r="2.08"/>
<circle cx="300.5" cy="234.5" r="2.08"/><circle cx="300.5" cy="232.5" r="2.08"/><circle cx="300.5" cy="233.5" r="2.08"/><circle cx="300.5" cy="240.5" r="2.08"/><circle cx="300.5" cy="238.5" r="2.08"/><circle cx="301.5" cy="235.5" r="2.08"/>
<circle cx="301.5" cy="232.5" r="2.08"/><circle cx="301.5" cy="248.5" r="2.08"/><circle cx="301.5" cy="243.5" r="2.08"/><circle cx="301.5" cy="224.5" r="2.08"/><circle cx="302.5" cy="244.5" r="2.08"/><circle cx="302.5" cy="241.5" r="2.08"/>
<circle cx="302.5" cy="231.5" r="2.08"/><circle cx="302.5" cy="236.5" r="2.08"/><circle cx="302.5" cy="233.5" r="2.08"/><circle cx="302.5" cy="235.5" r="2.08"/><circle cx="303.5" cy="237.5" r="2.08"/><circle cx="303.5" cy="241.5" r="2.08"/>
<circle cx="303.5" cy="235.5" r="2.08"/><circle cx="303.5" cy="238.5" r="2.08"/><circle cx="303.5" cy="243.5" r="2.08"/><circle cx="304.5" cy="235.5" r="2.08"/><circle cx="304.5" cy="234.5" r="2.08"/><circle cx="304.5" cy="232.5" r="2.08"/>
<circle cx="304.5" cy="240.5" r="2.08"/><circle cx="304.5" cy="230.5" r="2.08"/><circle cx="305.5" cy="243.5" r="2.08"/><circle cx="305.5" cy="242.5" r="2.08"/><circle cx="305.5" cy="235.5" r="2.08"/><circle cx="305.5" cy="233.5" r="2.08"/>
<circle cx="305.5" cy="227.5" r="2.08"/><circle cx="305.5" cy="245.5" r="2.08"/><circle cx="306.5" cy="236.5" r="2.08"/><circle cx="306.5" cy="230.5" r="2.08"/><circle cx="306.5" cy="235.5" r="2.08"/><circle cx="306.5" cy="229.5" r="2.08"/>
<circle cx="306.5" cy="233.5" r="2.08"/><circle cx="307.5" cy="244.5" r="2.08"/><circle cx="307.5" cy="238.5" r="2.08"/><circle cx="307.5" cy="246.5" r="2.08"/><circle cx="307.5" cy="237.5" r="2.08"/><circle cx="307.5" cy="240.5" r="2.08"/>
<circle cx="307.5" cy="235.5" r="2.08"/><circle cx="308.5" cy="235.5" r="2.08"/><circle cx="308.5" cy="233.5" r="2.08"/><circle cx="308.5" cy="236.5" r="2.08"/><circle cx="308.5" cy="245.5" r="2.08"/><circle cx="308.5" cy="238.5" r="2.08"/>
<circle cx="309.5" cy="239.5" r="2.08"/><circle cx="309.5" cy="237.5" r="2.08"/><circle cx="309.5" cy="244.5" r="2.08"/><circle cx="309.5" cy="240.5" r="2.08"/><circle cx="309.5" cy="245.5" r="2.08"/><circle cx="309.5" cy="230.5" r="2.08"/>
<circle cx="310.5" cy="241.5" r="2.08"/><circle cx="310.5" cy="232.5" r="2.08"/><circle cx="310.5" cy="239.5" r="2.08"/><circle cx="310.5" cy="242.5" r="2.08"/><circle cx="310.5" cy="243.5" r="2.08"/><circle cx="310.5" cy="237.5" r="2.08"/>
<circle cx="310.5" cy="234.5" r="2.08"/><circle cx="311.5" cy="239.5" r="2.08"/><circle cx="311.5" cy="232.5" r="2.08"/><circle cx="311.5" cy="245.5" r="2.08"/><circle cx="311.5" cy="249.5" r="2.08"/><circle cx="311.5" cy="235.5" r="2.08"/>
<circle cx="312.5" cy="244.5" r="2.08"/><circle cx="312.5" cy="243.5" r="2.08"/><circle cx="312.5" cy="246.5" r="2.08"/><circle cx="312.5" cy="237.5" r="2.08"/><circle cx="313.5" cy="237.5" r="2.08"/><circle cx="313.5" cy="241.5" r="2.08"/>
<circle cx="313.5" cy="236.5" r="2.08"/><circle cx="313.5" cy="248.5" r="2.08"/><circle cx="313.5" cy="239.5" r="2.08"/><circle cx="314.5" cy="232.5" r="2.08"/><circle cx="314.5" cy="230.5" r="2.08"/><circle cx="314.5" cy="239.5" r="2.08"/>
<circle cx="314.5" cy="231.5" r="2.08"/><circle cx="314.5" cy="244.5" r="2.08"/><circle cx="315.5" cy="239.5" r="2.08"/><circle cx="315.5" cy="233.5" r="2.08"/><circle cx="315.5" cy="235.5" r="2.08"/><circle cx="315.5" cy="242.5" r="2.08"/>
<circle cx="315.5" cy="232.5" r="2.08"/><circle cx="315.5" cy="236.5" r="2.08"/><circle cx="316.5" cy="243.5" r="2.08"/><circle cx="316.5" cy="236.5" r="2.08"/><circle cx="316.5" cy="237.5" r="2.08"/><circle cx="316.5" cy="242.5" r="2.08"/>
<circle cx="316.5" cy="246.5" r="2.08"/><circle cx="316.5" cy="241.5" r="2.08"/><circle cx="316.5" cy="235.5" r="2.08"/><circle cx="317.5" cy="234.5" r="2.08"/><circle cx="317.5" cy="239.5" r="2.08"/><circle cx="317.5" cy="240.5" r="2.08"/>
<circle cx="317.5" cy="235.5" r="2.08"/><circle cx="318.5" cy="233.5" r="2.08"/><circle cx="318.5" cy="238.5" r="2.08"/><circle cx="318.5" cy="239.5" r="2.08"/><circle cx="318.5" cy="236.5" r="2.08"/><circle cx="318.5" cy="243.5" r="2.08"/>
<circle cx="318.5" cy="245.5" r="2.08"/><circle cx="319.5" cy="249.5" r="2.08"/><circle cx="319.5" cy="243.5" r="2.08"/><circle cx="319.5" cy="239.5" r="2.08"/><circle cx="319.5" cy="238.5" r="2.08"/><circle cx="319.5" cy="245.5" r="2.08"/>
<circle cx="320.5" cy="244.5" r="2.08"/><circle cx="320.5" cy="235.5" r="2.08"/><circle cx="320.5" cy="248.5" r="2.08"/><circle cx="320.5" cy="247.5" r="2.08"/><circle cx="320.5" cy="246.5" r="2.08"/><circle cx="320.5" cy="241.5" r="2.08"/>
<circle cx="321.5" cy="242.5" r="2.08"/><circle cx="321.5" cy="239.5" r="2.08"/><circle cx="321.5" cy="244.5" r="2.08"/><circle cx="322.5" cy="248.5" r="2.08"/><circle cx="322.5" cy="244.5" r="2.08"/><circle cx="322.5" cy="241.5" r="2.08"/>
<circle cx="322.5" cy="249.5" r="2.08"/><circle cx="322.5" cy="245.5" r="2.08"/><circle cx="323.5" cy="248.5" r="2.08"/><circle cx="323.5" cy="247.5" r="2.08"/><circle cx="323.5" cy="252.5" r="2.08"/><circle cx="323.5" cy="249.5" r="2.08"/>
<circle cx="324.5" cy="245.5" r="2.08"/><circle cx="324.5" cy="246.5" r="2.08"/><circle cx="324.5" cy="242.5" r="2.08"/><circle cx="324.5" cy="247.5" r="2.08"/><circle cx="324.5" cy="249.5" r="2.08"/><circle cx="324.5" cy="248.5" r="2.08"/>
<circle cx="325.5" cy="253.5" r="2.08"/><circle cx="325.5" cy="244.5" r="2.08"/><circle cx="325.5" cy="252.5" r="2.08"/><circle cx="325.5" cy="245.5" r="2.08"/><circle cx="325.5" cy="256.5" r="2.08"/><circle cx="326.5" cy="257.5" r="2.08"/>
<circle cx="326.5" cy="259.5" r="2.08"/><circle cx="326.5" cy="256.5" r="2.08"/><circle cx="326.5" cy="251.5" r="2.08"/><circle cx="326.5" cy="255.5" r="2.08"/><circle cx="327.5" cy="257.5" r="2.08"/><circle cx="327.5" cy="259.5" r="2.08"/>
<circle cx="327.5" cy="258.5" r="2.08"/><circle cx="327.5" cy="256.5" r="2.08"/><circle cx="327.5" cy="265.5" r="2.08"/><circle cx="327.5" cy="260.5" r="2.08"/><circle cx="328.5" cy="266.5" r="2.08"/><circle cx="328.5" cy="269.5" r="2.08"/>
<circle cx="328.5" cy="260.5" r="2.08"/><circle cx="328.5" cy="263.5" r="2.08"/><circle cx="328.5" cy="264.5" r="2.08"/><circle cx="328.5" cy="259.5" r="2.08"/><circle cx="329.5" cy="267.5" r="2.08"/><circle cx="329.5" cy="266.5" r="2.08"/>
<circle cx="329.5" cy="262.5" r="2.08"/><circle cx="329.5" cy="263.5" r="2.08"/><circle cx="329.5" cy="261.5" r="2.08"/><circle cx="330.5" cy="256.5" r="2.08"/><circle cx="330.5" cy="266.5" r="2.08"/><circle cx="330.5" cy="258.5" r="2.08"/>
<circle cx="330.5" cy="267.5" r="2.08"/><circle cx="330.5" cy="264.5" r="2.08"/><circle cx="330.5" cy="259.5" r="2.08"/><circle cx="331.5" cy="264.5" r="2.08"/><circle cx="331.5" cy="272.5" r="2.08"/><circle cx="331.5" cy="260.5" r="2.08"/>
<circle cx="331.5" cy="263.5" r="2.08"/><circle cx="331.5" cy="268.5" r="2.08"/><circle cx="332.5" cy="266.5" r="2.08"/><circle cx="332.5" cy="262.5" r="2.08"/><circle cx="332.5" cy="273.5" r="2.08"/><circle cx="332.5" cy="265.5" r="2.08"/>
<circle cx="332.5" cy="267.5" r="2.08"/><circle cx="332.5" cy="263.5" r="2.08"/><circle cx="333.5" cy="268.5" r="2.08"/><circle cx="333.5" cy="270.5" r="2.08"/><circle cx="333.5" cy="266.5" r="2.08"/><circle cx="333.5" cy="275.5" r="2.08"/>
<circle cx="333.5" cy="267.5" r="2.08"/><circle cx="333.5" cy="265.5" r="2.08"/><circle cx="334.5" cy="265.5" r="2.08"/><circle cx="334.5" cy="275.5" r="2.08"/><circle cx="334.5" cy="270.5" r="2.08"/><circle cx="334.5" cy="264.5" r="2.08"/>
<circle cx="334.5" cy="266.5" r="2.08"/><circle cx="334.5" cy="262.5" r="2.08"/><circle cx="334.5" cy="272.5" r="2.08"/><circle cx="335.5" cy="262.5" r="2.08"/><circle cx="335.5" cy="259.5" r="2.08"/><circle cx="335.5" cy="267.5" r="2.08"/>
<circle cx="335.5" cy="271.5" r="2.08"/><circle cx="335.5" cy="269.5" r="2.08"/><circle cx="335.5" cy="268.5" r="2.08"/><circle cx="336.5" cy="258.5" r="2.08"/><circle cx="336.5" cy="252.5" r="2.08"/><circle cx="336.5" cy="264.5" r="2.08"/>
<circle cx="336.5" cy="263.5" r="2.08"/><circle cx="336.5" cy="268.5" r="2.08"/><circle cx="336.5" cy="274.5" r="2.08"/><circle cx="337.5" cy="269.5" r="2.08"/><circle cx="337.5" cy="267.5" r="2.08"/><circle cx="337.5" cy="266.5" r="2.08"/>
<circle cx="337.5" cy="265.5" r="2.08"/><circle cx="337.5" cy="270.5" r="2.08"/><circle cx="337.5" cy="261.5" r="2.08"/><circle cx="337.5" cy="276.5" r="2.08"/><circle cx="338.5" cy="264.5" r="2.08"/><circle cx="338.5" cy="267.5" r="2.08"/>
<circle cx="338.5" cy="261.5" r="2.08"/><circle cx="338.5" cy="268.5" r="2.08"/><circle cx="338.5" cy="269.5" r="2.08"/><circle cx="339.5" cy="269.5" r="2.08"/><circle cx="339.5" cy="267.5" r="2.08"/><circle cx="339.5" cy="270.5" r="2.08"/>
<circle cx="339.5" cy="274.5" r="2.08"/><circle cx="339.5" cy="266.5" r="2.08"/><circle cx="340.5" cy="261.5" r="2.08"/><circle cx="340.5" cy="279.5" r="2.08"/><circle cx="340.5" cy="274.5" r="2.08"/><circle cx="340.5" cy="271.5" r="2.08"/>
<circle cx="340.5" cy="280.5" r="2.08"/><circle cx="340.5" cy="265.5" r="2.08"/><circle cx="340.5" cy="268.5" r="2.08"/><circle cx="341.5" cy="270.5" r="2.08"/><circle cx="341.5" cy="273.5" r="2.08"/><circle cx="341.5" cy="268.5" r="2.08"/>
<circle cx="341.5" cy="267.5" r="2.08"/><circle cx="341.5" cy="271.5" r="2.08"/><circle cx="341.5" cy="277.5" r="2.08"/><circle cx="342.5" cy="276.5" r="2.08"/><circle cx="342.5" cy="274.5" r="2.08"/><circle cx="342.5" cy="272.5" r="2.08"/>
<circle cx="342.5" cy="268.5" r="2.08"/><circle cx="342.5" cy="267.5" r="2.08"/><circle cx="343.5" cy="283.5" r="2.08"/><circle cx="343.5" cy="272.5" r="2.08"/><circle cx="343.5" cy="267.5" r="2.08"/><circle cx="343.5" cy="274.5" r="2.08"/>
<circle cx="343.5" cy="270.5" r="2.08"/><circle cx="343.5" cy="282.5" r="2.08"/><circle cx="343.5" cy="277.5" r="2.08"/><circle cx="344.5" cy="281.5" r="2.08"/><circle cx="344.5" cy="273.5" r="2.08"/><circle cx="344.5" cy="270.5" r="2.08"/>
<circle cx="344.5" cy="276.5" r="2.08"/><circle cx="344.5" cy="269.5" r="2.08"/><circle cx="345.5" cy="271.5" r="2.08"/><circle cx="345.5" cy="274.5" r="2.08"/><circle cx="345.5" cy="268.5" r="2.08"/><circle cx="345.5" cy="265.5" r="2.08"/>
<circle cx="345.5" cy="282.5" r="2.08"/><circle cx="345.5" cy="272.5" r="2.08"/><circle cx="346.5" cy="274.5" r="2.08"/><circle cx="346.5" cy="283.5" r="2.08"/><circle cx="346.5" cy="277.5" r="2.08"/><circle cx="346.5" cy="272.5" r="2.08"/>
<circle cx="346.5" cy="273.5" r="2.08"/><circle cx="346.5" cy="287.5" r="2.08"/><circle cx="346.5" cy="282.5" r="2.08"/><circle cx="347.5" cy="279.5" r="2.08"/><circle cx="347.5" cy="284.5" r="2.08"/><circle cx="347.5" cy="265.5" r="2.08"/>
<circle cx="347.5" cy="277.5" r="2.08"/><circle cx="347.5" cy="273.5" r="2.08"/><circle cx="347.5" cy="264.5" r="2.08"/><circle cx="348.5" cy="276.5" r="2.08"/><circle cx="348.5" cy="278.5" r="2.08"/><circle cx="348.5" cy="273.5" r="2.08"/>
<circle cx="348.5" cy="264.5" r="2.08"/><circle cx="348.5" cy="268.5" r="2.08"/><circle cx="348.5" cy="275.5" r="2.08"/><circle cx="349.5" cy="272.5" r="2.08"/><circle cx="349.5" cy="275.5" r="2.08"/><circle cx="349.5" cy="276.5" r="2.08"/>
<circle cx="349.5" cy="273.5" r="2.08"/><circle cx="349.5" cy="274.5" r="2.08"/><circle cx="349.5" cy="285.5" r="2.08"/><circle cx="350.5" cy="274.5" r="2.08"/><circle cx="350.5" cy="277.5" r="2.08"/><circle cx="350.5" cy="272.5" r="2.08"/>
<circle cx="350.5" cy="270.5" r="2.08"/><circle cx="350.5" cy="266.5" r="2.08"/><circle cx="350.5" cy="258.5" r="2.08"/><circle cx="351.5" cy="260.5" r="2.08"/><circle cx="351.5" cy="284.5" r="2.08"/><circle cx="351.5" cy="276.5" r="2.08"/>
<circle cx="351.5" cy="275.5" r="2.08"/><circle cx="351.5" cy="273.5" r="2.08"/><circle cx="352.5" cy="264.5" r="2.08"/><circle cx="352.5" cy="269.5" r="2.08"/><circle cx="352.5" cy="277.5" r="2.08"/><circle cx="352.5" cy="279.5" r="2.08"/>
<circle cx="352.5" cy="276.5" r="2.08"/><circle cx="352.5" cy="278.5" r="2.08"/><circle cx="352.5" cy="270.5" r="2.08"/><circle cx="353.5" cy="272.5" r="2.08"/><circle cx="353.5" cy="269.5" r="2.08"/><circle cx="353.5" cy="276.5" r="2.08"/>
<circle cx="353.5" cy="277.5" r="2.08"/><circle cx="353.5" cy="273.5" r="2.08"/><circle cx="354.5" cy="281.5" r="2.08"/><circle cx="354.5" cy="280.5" r="2.08"/><circle cx="354.5" cy="278.5" r="2.08"/><circle cx="354.5" cy="279.5" r="2.08"/>
<circle cx="354.5" cy="269.5" r="2.08"/><circle cx="355.5" cy="280.5" r="2.08"/><circle cx="355.5" cy="267.5" r="2.08"/><circle cx="355.5" cy="279.5" r="2.08"/><circle cx="355.5" cy="278.5" r="2.08"/><circle cx="355.5" cy="262.5" r="2.08"/>
<circle cx="356.5" cy="265.5" r="2.08"/><circle cx="356.5" cy="285.5" r="2.08"/><circle cx="356.5" cy="271.5" r="2.08"/><circle cx="356.5" cy="278.5" r="2.08"/><circle cx="356.5" cy="276.5" r="2.08"/><circle cx="356.5" cy="267.5" r="2.08"/>
<circle cx="357.5" cy="284.5" r="2.08"/><circle cx="357.5" cy="279.5" r="2.08"/><circle cx="357.5" cy="275.5" r="2.08"/><circle cx="357.5" cy="276.5" r="2.08"/><circle cx="357.5" cy="265.5" r="2.08"/><circle cx="358.5" cy="290.5" r="2.08"/>
<circle cx="358.5" cy="274.5" r="2.08"/><circle cx="358.5" cy="275.5" r="2.08"/><circle cx="358.5" cy="265.5" r="2.08"/><circle cx="358.5" cy="266.5" r="2.08"/><circle cx="358.5" cy="276.5" r="2.08"/><circle cx="358.5" cy="279.5" r="2.08"/>
<circle cx="359.5" cy="282.5" r="2.08"/><circle cx="359.5" cy="272.5" r="2.08"/><circle cx="359.5" cy="280.5" r="2.08"/><circle cx="359.5" cy="274.5" r="2.08"/><circle cx="359.5" cy="277.5" r="2.08"/><circle cx="360.5" cy="266.5" r="2.08"/>
<circle cx="360.5" cy="268.5" r="2.08"/><circle cx="360.5" cy="290.5" r="2.08"/><circle cx="360.5" cy="289.5" r="2.08"/><circle cx="360.5" cy="276.5" r="2.08"/><circle cx="360.5" cy="287.5" r="2.08"/><circle cx="361.5" cy="278.5" r="2.08"/>
<circle cx="361.5" cy="282.5" r="2.08"/><circle cx="361.5" cy="272.5" r="2.08"/><circle cx="361.5" cy="271.5" r="2.08"/><circle cx="361.5" cy="281.5" r="2.08"/><circle cx="361.5" cy="277.5" r="2.08"/><circle cx="362.5" cy="267.5" r="2.08"/>
<circle cx="362.5" cy="274.5" r="2.08"/><circle cx="362.5" cy="271.5" r="2.08"/><circle cx="362.5" cy="285.5" r="2.08"/><circle cx="362.5" cy="284.5" r="2.08"/><circle cx="362.5" cy="280.5" r="2.08"/><circle cx="363.5" cy="291.5" r="2.08"/>
<circle cx="363.5" cy="274.5" r="2.08"/><circle cx="363.5" cy="268.5" r="2.08"/><circle cx="363.5" cy="279.5" r="2.08"/><circle cx="363.5" cy="281.5" r="2.08"/><circle cx="363.5" cy="275.5" r="2.08"/><circle cx="364.5" cy="275.5" r="2.08"/>
<circle cx="364.5" cy="283.5" r="2.08"/><circle cx="364.5" cy="270.5" r="2.08"/><circle cx="364.5" cy="278.5" r="2.08"/><circle cx="364.5" cy="274.5" r="2.08"/><circle cx="364.5" cy="289.5" r="2.08"/><circle cx="364.5" cy="290.5" r="2.08"/>
<circle cx="365.5" cy="274.5" r="2.08"/><circle cx="365.5" cy="275.5" r="2.08"/><circle cx="365.5" cy="280.5" r="2.08"/><circle cx="365.5" cy="283.5" r="2.08"/><circle cx="366.5" cy="285.5" r="2.08"/><circle cx="366.5" cy="286.5" r="2.08"/>
<circle cx="366.5" cy="289.5" r="2.08"/><circle cx="366.5" cy="280.5" r="2.08"/><circle cx="366.5" cy="277.5" r="2.08"/><circle cx="366.5" cy="279.5" r="2.08"/><circle cx="367.5" cy="290.5" r="2.08"/><circle cx="367.5" cy="283.5" r="2.08"/>
<circle cx="367.5" cy="282.5" r="2.08"/><circle cx="367.5" cy="268.5" r="2.08"/><circle cx="367.5" cy="267.5" r="2.08"/><circle cx="367.5" cy="270.5" r="2.08"/><circle cx="367.5" cy="274.5" r="2.08"/><circle cx="368.5" cy="278.5" r="2.08"/>
<circle cx="368.5" cy="281.5" r="2.08"/><circle cx="368.5" cy="268.5" r="2.08"/><circle cx="368.5" cy="276.5" r="2.08"/><circle cx="368.5" cy="279.5" r="2.08"/><circle cx="369.5" cy="274.5" r="2.08"/><circle cx="369.5" cy="276.5" r="2.08"/>
<circle cx="369.5" cy="281.5" r="2.08"/><circle cx="369.5" cy="279.5" r="2.08"/><circle cx="369.5" cy="271.5" r="2.08"/><circle cx="369.5" cy="268.5" r="2.08"/><circle cx="370.5" cy="276.5" r="2.08"/><circle cx="370.5" cy="278.5" r="2.08"/>
<circle cx="370.5" cy="275.5" r="2.08"/><circle cx="370.5" cy="277.5" r="2.08"/><circle cx="370.5" cy="269.5" r="2.08"/><circle cx="370.5" cy="274.5" r="2.08"/><circle cx="370.5" cy="272.5" r="2.08"/><circle cx="371.5" cy="277.5" r="2.08"/>
<circle cx="371.5" cy="275.5" r="2.08"/><circle cx="371.5" cy="272.5" r="2.08"/><circle cx="371.5" cy="269.5" r="2.08"/><circle cx="371.5" cy="283.5" r="2.08"/><circle cx="371.5" cy="274.5" r="2.08"/><circle cx="372.5" cy="282.5" r="2.08"/>
<circle cx="372.5" cy="278.5" r="2.08"/><circle cx="372.5" cy="276.5" r="2.08"/><circle cx="372.5" cy="281.5" r="2.08"/><circle cx="372.5" cy="272.5" r="2.08"/><circle cx="373.5" cy="274.5" r="2.08"/><circle cx="373.5" cy="281.5" r="2.08"/>
<circle cx="373.5" cy="275.5" r="2.08"/><circle cx="373.5" cy="270.5" r="2.08"/><circle cx="373.5" cy="286.5" r="2.08"/><circle cx="373.5" cy="287.5" r="2.08"/><circle cx="374.5" cy="273.5" r="2.08"/><circle cx="374.5" cy="279.5" r="2.08"/>
<circle cx="374.5" cy="274.5" r="2.08"/><circle cx="374.5" cy="277.5" r="2.08"/><circle cx="375.5" cy="285.5" r="2.08"/><circle cx="375.5" cy="286.5" r="2.08"/><circle cx="375.5" cy="288.5" r="2.08"/><circle cx="375.5" cy="280.5" r="2.08"/>
<circle cx="375.5" cy="281.5" r="2.08"/><circle cx="376.5" cy="275.5" r="2.08"/><circle cx="376.5" cy="284.5" r="2.08"/><circle cx="376.5" cy="282.5" r="2.08"/><circle cx="376.5" cy="281.5" r="2.08"/><circle cx="376.5" cy="276.5" r="2.08"/>
<circle cx="377.5" cy="283.5" r="2.08"/><circle cx="377.5" cy="281.5" r="2.08"/><circle cx="377.5" cy="282.5" r="2.08"/><circle cx="377.5" cy="278.5" r="2.08"/><circle cx="377.5" cy="277.5" r="2.08"/><circle cx="378.5" cy="272.5" r="2.08"/>
<circle cx="378.5" cy="275.5" r="2.08"/><circle cx="378.5" cy="290.5" r="2.08"/><circle cx="378.5" cy="281.5" r="2.08"/><circle cx="379.5" cy="286.5" r="2.08"/><circle cx="379.5" cy="289.5" r="2.08"/><circle cx="379.5" cy="273.5" r="2.08"/>
<circle cx="379.5" cy="272.5" r="2.08"/><circle cx="379.5" cy="281.5" r="2.08"/><circle cx="379.5" cy="270.5" r="2.08"/><circle cx="380.5" cy="278.5" r="2.08"/><circle cx="380.5" cy="273.5" r="2.08"/><circle cx="380.5" cy="276.5" r="2.08"/>
<circle cx="380.5" cy="285.5" r="2.08"/><circle cx="381.5" cy="287.5" r="2.08"/><circle cx="381.5" cy="289.5" r="2.08"/><circle cx="381.5" cy="273.5" r="2.08"/><circle cx="381.5" cy="286.5" r="2.08"/><circle cx="381.5" cy="284.5" r="2.08"/>
<circle cx="381.5" cy="290.5" r="2.08"/><circle cx="382.5" cy="289.5" r="2.08"/><circle cx="382.5" cy="290.5" r="2.08"/><circle cx="382.5" cy="284.5" r="2.08"/><circle cx="382.5" cy="286.5" r="2.08"/><circle cx="382.5" cy="287.5" r="2.08"/>
<circle cx="382.5" cy="285.5" r="2.08"/><circle cx="383.5" cy="275.5" r="2.08"/><circle cx="383.5" cy="289.5" r="2.08"/><circle cx="383.5" cy="283.5" r="2.08"/><circle cx="383.5" cy="281.5" r="2.08"/><circle cx="383.5" cy="285.5" r="2.08"/>
<circle cx="383.5" cy="282.5" r="2.08"/><circle cx="384.5" cy="291.5" r="2.08"/><circle cx="384.5" cy="295.5" r="2.08"/><circle cx="384.5" cy="287.5" r="2.08"/><circle cx="384.5" cy="286.5" r="2.08"/><circle cx="384.5" cy="281.5" r="2.08"/>
<circle cx="385.5" cy="281.5" r="2.08"/><circle cx="385.5" cy="288.5" r="2.08"/><circle cx="385.5" cy="287.5" r="2.08"/><circle cx="385.5" cy="289.5" r="2.08"/><circle cx="385.5" cy="286.5" r="2.08"/><circle cx="386.5" cy="290.5" r="2.08"/>
<circle cx="386.5" cy="288.5" r="2.08"/><circle cx="386.5" cy="291.5" r="2.08"/><circle cx="386.5" cy="282.5" r="2.08"/><circle cx="387.5" cy="288.5" r="2.08"/><circle cx="387.5" cy="294.5" r="2.08"/><circle cx="387.5" cy="290.5" r="2.08"/>
<circle cx="387.5" cy="284.5" r="2.08"/><circle cx="388.5" cy="291.5" r="2.08"/><circle cx="388.5" cy="289.5" r="2.08"/><circle cx="388.5" cy="290.5" r="2.08"/><circle cx="388.5" cy="286.5" r="2.08"/><circle cx="388.5" cy="285.5" r="2.08"/>
<circle cx="389.5" cy="293.5" r="2.08"/><circle cx="389.5" cy="288.5" r="2.08"/><circle cx="389.5" cy="297.5" r="2.08"/><circle cx="389.5" cy="294.5" r="2.08"/><circle cx="389.5" cy="299.5" r="2.08"/><circle cx="390.5" cy="291.5" r="2.08"/>
<circle cx="390.5" cy="288.5" r="2.08"/><circle cx="390.5" cy="281.5" r="2.08"/><circle cx="390.5" cy="295.5" r="2.08"/><circle cx="390.5" cy="286.5" r="2.08"/><circle cx="390.5" cy="292.5" r="2.08"/><circle cx="391.5" cy="293.5" r="2.08"/>
<circle cx="391.5" cy="297.5" r="2.08"/><circle cx="391.5" cy="291.5" r="2.08"/><circle cx="391.5" cy="287.5" r="2.08"/><circle cx="392.5" cy="298.5" r="2.08"/><circle cx="392.5" cy="303.5" r="2.08"/><circle cx="392.5" cy="293.5" r="2.08"/>
<circle cx="392.5" cy="294.5" r="2.08"/><circle cx="392.5" cy="296.5" r="2.08"/><circle cx="393.5" cy="303.5" r="2.08"/><circle cx="393.5" cy="301.5" r="2.08"/><circle cx="393.5" cy="300.5" r="2.08"/><circle cx="393.5" cy="307.5" r="2.08"/>
<circle cx="393.5" cy="296.5" r="2.08"/><circle cx="394.5" cy="304.5" r="2.08"/><circle cx="394.5" cy="308.5" r="2.08"/><circle cx="394.5" cy="314.5" r="2.08"/><circle cx="394.5" cy="301.5" r="2.08"/><circle cx="395.5" cy="305.5" r="2.08"/>
<circle cx="395.5" cy="300.5" r="2.08"/><circle cx="395.5" cy="303.5" r="2.08"/><circle cx="395.5" cy="301.5" r="2.08"/><circle cx="395.5" cy="298.5" r="2.08"/><circle cx="395.5" cy="309.5" r="2.08"/><circle cx="395.5" cy="306.5" r="2.08"/>
<circle cx="396.5" cy="311.5" r="2.08"/><circle cx="396.5" cy="308.5" r="2.08"/><circle cx="396.5" cy="306.5" r="2.08"/><circle cx="396.5" cy="303.5" r="2.08"/><circle cx="396.5" cy="307.5" r="2.08"/><circle cx="396.5" cy="302.5" r="2.08"/>
<circle cx="397.5" cy="310.5" r="2.08"/><circle cx="397.5" cy="302.5" r="2.08"/><circle cx="397.5" cy="298.5" r="2.08"/><circle cx="397.5" cy="305.5" r="2.08"/><circle cx="397.5" cy="311.5" r="2.08"/><circle cx="398.5" cy="305.5" r="2.08"/>
<circle cx="398.5" cy="304.5" r="2.08"/><circle cx="398.5" cy="311.5" r="2.08"/><circle cx="398.5" cy="301.5" r="2.08"/><circle cx="398.5" cy="316.5" r="2.08"/><circle cx="399.5" cy="316.5" r="2.08"/><circle cx="400.5" cy="315.5" r="2.08"/>
<circle cx="400.5" cy="316.5" r="2.08"/><circle cx="401.5" cy="315.5" r="2.08"/><circle cx="402.5" cy="315.5" r="2.08"/><circle cx="402.5" cy="316.5" r="2.08"/><circle cx="403.5" cy="315.5" r="2.08"/><circle cx="403.5" cy="316.5" r="2.08"/>
<circle cx="404.5" cy="316.5" r="2.08"/><circle cx="404.5" cy="317.5" r="2.08"/><circle cx="404.5" cy="315.5" r="2.08"/><circle cx="404.5" cy="314.5" r="2.08"/><circle cx="404.5" cy="308.5" r="2.08"/><circle cx="404.5" cy="307.5" r="2.08"/>
<circle cx="405.5" cy="310.5" r="2.08"/><circle cx="405.5" cy="311.5" r="2.08"/><circle cx="405.5" cy="314.5" r="2.08"/><circle cx="405.5" cy="313.5" r="2.08"/><circle cx="405.5" cy="303.5" r="2.08"/><circle cx="406.5" cy="314.5" r="2.08"/>
<circle cx="406.5" cy="315.5" r="2.08"/><circle cx="406.5" cy="317.5" r="2.08"/><circle cx="406.5" cy="319.5" r="2.08"/><circle cx="406.5" cy="312.5" r="2.08"/><circle cx="407.5" cy="312.5" r="2.08"/><circle cx="407.5" cy="310.5" r="2.08"/>
<circle cx="407.5" cy="316.5" r="2.08"/><circle cx="407.5" cy="304.5" r="2.08"/><circle cx="407.5" cy="308.5" r="2.08"/><circle cx="407.5" cy="303.5" r="2.08"/><circle cx="408.5" cy="313.5" r="2.08"/><circle cx="408.5" cy="306.5" r="2.08"/>
<circle cx="408.5" cy="304.5" r="2.08"/><circle cx="408.5" cy="310.5" r="2.08"/><circle cx="408.5" cy="307.5" r="2.08"/><circle cx="408.5" cy="321.5" r="2.08"/><circle cx="409.5" cy="308.5" r="2.08"/><circle cx="409.5" cy="314.5" r="2.08"/>
<circle cx="409.5" cy="309.5" r="2.08"/><circle cx="409.5" cy="315.5" r="2.08"/><circle cx="410.5" cy="314.5" r="2.08"/><circle cx="410.5" cy="313.5" r="2.08"/><circle cx="410.5" cy="308.5" r="2.08"/><circle cx="410.5" cy="306.5" r="2.08"/>
<circle cx="410.5" cy="307.5" r="2.08"/><circle cx="410.5" cy="303.5" r="2.08"/><circle cx="410.5" cy="309.5" r="2.08"/><circle cx="411.5" cy="306.5" r="2.08"/><circle cx="411.5" cy="309.5" r="2.08"/><circle cx="411.5" cy="314.5" r="2.08"/>
<circle cx="411.5" cy="311.5" r="2.08"/><circle cx="411.5" cy="315.5" r="2.08"/><circle cx="411.5" cy="312.5" r="2.08"/><circle cx="412.5" cy="311.5" r="2.08"/><circle cx="412.5" cy="316.5" r="2.08"/><circle cx="412.5" cy="306.5" r="2.08"/>
<circle cx="412.5" cy="307.5" r="2.08"/><circle cx="413.5" cy="315.5" r="2.08"/><circle cx="446.5" cy="334.5" r="2.08"/><circle cx="446.5" cy="333.5" r="2.08"/><circle cx="446.5" cy="332.5" r="2.08"/><circle cx="447.5" cy="334.5" r="2.08"/>
<circle cx="447.5" cy="336.5" r="2.08"/><circle cx="447.5" cy="341.5" r="2.08"/><circle cx="447.5" cy="337.5" r="2.08"/><circle cx="448.5" cy="335.5" r="2.08"/><circle cx="448.5" cy="332.5" r="2.08"/><circle cx="448.5" cy="336.5" r="2.08"/>
<circle cx="448.5" cy="333.5" r="2.08"/><circle cx="448.5" cy="339.5" r="2.08"/><circle cx="449.5" cy="346.5" r="2.08"/><circle cx="449.5" cy="339.5" r="2.08"/><circle cx="449.5" cy="341.5" r="2.08"/><circle cx="449.5" cy="332.5" r="2.08"/>
<circle cx="449.5" cy="336.5" r="2.08"/><circle cx="450.5" cy="334.5" r="2.08"/><circle cx="450.5" cy="339.5" r="2.08"/><circle cx="450.5" cy="338.5" r="2.08"/><circle cx="450.5" cy="346.5" r="2.08"/><circle cx="450.5" cy="336.5" r="2.08"/>
<circle cx="451.5" cy="342.5" r="2.08"/><circle cx="451.5" cy="335.5" r="2.08"/><circle cx="451.5" cy="345.5" r="2.08"/><circle cx="451.5" cy="339.5" r="2.08"/><circle cx="451.5" cy="344.5" r="2.08"/><circle cx="451.5" cy="348.5" r="2.08"/>
<circle cx="452.5" cy="343.5" r="2.08"/><circle cx="452.5" cy="342.5" r="2.08"/><circle cx="452.5" cy="341.5" r="2.08"/><circle cx="452.5" cy="348.5" r="2.08"/><circle cx="452.5" cy="345.5" r="2.08"/><circle cx="453.5" cy="342.5" r="2.08"/>
<circle cx="453.5" cy="347.5" r="2.08"/><circle cx="453.5" cy="351.5" r="2.08"/><circle cx="453.5" cy="346.5" r="2.08"/><circle cx="453.5" cy="349.5" r="2.08"/><circle cx="454.5" cy="341.5" r="2.08"/><circle cx="454.5" cy="338.5" r="2.08"/>
<circle cx="454.5" cy="355.5" r="2.08"/><circle cx="454.5" cy="348.5" r="2.08"/><circle cx="454.5" cy="342.5" r="2.08"/><circle cx="455.5" cy="339.5" r="2.08"/><circle cx="455.5" cy="347.5" r="2.08"/><circle cx="455.5" cy="352.5" r="2.08"/>
<circle cx="455.5" cy="350.5" r="2.08"/><circle cx="455.5" cy="344.5" r="2.08"/><circle cx="456.5" cy="347.5" r="2.08"/><circle cx="456.5" cy="338.5" r="2.08"/><circle cx="456.5" cy="352.5" r="2.08"/><circle cx="456.5" cy="353.5" r="2.08"/>
<circle cx="456.5" cy="354.5" r="2.08"/><circle cx="456.5" cy="342.5" r="2.08"/><circle cx="457.5" cy="348.5" r="2.08"/><circle cx="457.5" cy="349.5" r="2.08"/><circle cx="457.5" cy="350.5" r="2.08"/><circle cx="457.5" cy="352.5" r="2.08"/>
<circle cx="458.5" cy="352.5" r="2.08"/><circle cx="458.5" cy="353.5" r="2.08"/><circle cx="458.5" cy="349.5" r="2.08"/><circle cx="458.5" cy="358.5" r="2.08"/><circle cx="458.5" cy="345.5" r="2.08"/><circle cx="458.5" cy="347.5" r="2.08"/>
<circle cx="459.5" cy="344.5" r="2.08"/><circle cx="459.5" cy="354.5" r="2.08"/><circle cx="459.5" cy="342.5" r="2.08"/><circle cx="459.5" cy="349.5" r="2.08"/><circle cx="459.5" cy="340.5" r="2.08"/><circle cx="460.5" cy="341.5" r="2.08"/>
<circle cx="460.5" cy="344.5" r="2.08"/><circle cx="460.5" cy="350.5" r="2.08"/><circle cx="460.5" cy="351.5" r="2.08"/><circle cx="460.5" cy="348.5" r="2.08"/><circle cx="460.5" cy="353.5" r="2.08"/><circle cx="461.5" cy="354.5" r="2.08"/>
<circle cx="461.5" cy="349.5" r="2.08"/><circle cx="461.5" cy="344.5" r="2.08"/><circle cx="461.5" cy="341.5" r="2.08"/><circle cx="461.5" cy="348.5" r="2.08"/><circle cx="461.5" cy="346.5" r="2.08"/><circle cx="462.5" cy="345.5" r="2.08"/>
<circle cx="462.5" cy="348.5" r="2.08"/><circle cx="462.5" cy="346.5" r="2.08"/><circle cx="463.5" cy="340.5" r="2.08"/><circle cx="463.5" cy="352.5" r="2.08"/><circle cx="463.5" cy="346.5" r="2.08"/><circle cx="463.5" cy="341.5" r="2.08"/>
<circle cx="463.5" cy="344.5" r="2.08"/><circle cx="463.5" cy="350.5" r="2.08"/><circle cx="464.5" cy="345.5" r="2.08"/><circle cx="464.5" cy="344.5" r="2.08"/><circle cx="464.5" cy="353.5" r="2.08"/><circle cx="464.5" cy="346.5" r="2.08"/>
<circle cx="464.5" cy="347.5" r="2.08"/><circle cx="465.5" cy="353.5" r="2.08"/><circle cx="465.5" cy="351.5" r="2.08"/><circle cx="465.5" cy="345.5" r="2.08"/><circle cx="465.5" cy="343.5" r="2.08"/><circle cx="465.5" cy="347.5" r="2.08"/>
<circle cx="465.5" cy="350.5" r="2.08"/><circle cx="466.5" cy="345.5" r="2.08"/><circle cx="466.5" cy="342.5" r="2.08"/><circle cx="466.5" cy="343.5" r="2.08"/><circle cx="466.5" cy="341.5" r="2.08"/><circle cx="467.5" cy="345.5" r="2.08"/>
<circle cx="467.5" cy="339.5" r="2.08"/><circle cx="467.5" cy="346.5" r="2.08"/><circle cx="467.5" cy="337.5" r="2.08"/><circle cx="467.5" cy="343.5" r="2.08"/><circle cx="468.5" cy="343.5" r="2.08"/><circle cx="468.5" cy="350.5" r="2.08"/>
<circle cx="468.5" cy="346.5" r="2.08"/><circle cx="468.5" cy="344.5" r="2.08"/><circle cx="468.5" cy="348.5" r="2.08"/><circle cx="469.5" cy="348.5" r="2.08"/><circle cx="469.5" cy="349.5" r="2.08"/><circle cx="469.5" cy="334.5" r="2.08"/>
<circle cx="469.5" cy="344.5" r="2.08"/><circle cx="469.5" cy="333.5" r="2.08"/><circle cx="469.5" cy="336.5" r="2.08"/><circle cx="469.5" cy="335.5" r="2.08"/><circle cx="470.5" cy="341.5" r="2.08"/><circle cx="470.5" cy="329.5" r="2.08"/>
<circle cx="470.5" cy="339.5" r="2.08"/><circle cx="470.5" cy="331.5" r="2.08"/><circle cx="470.5" cy="345.5" r="2.08"/><circle cx="470.5" cy="335.5" r="2.08"/><circle cx="471.5" cy="336.5" r="2.08"/><circle cx="471.5" cy="331.5" r="2.08"/>
<circle cx="471.5" cy="333.5" r="2.08"/><circle cx="471.5" cy="341.5" r="2.08"/><circle cx="471.5" cy="344.5" r="2.08"/><circle cx="472.5" cy="334.5" r="2.08"/><circle cx="472.5" cy="336.5" r="2.08"/><circle cx="472.5" cy="344.5" r="2.08"/>
<circle cx="472.5" cy="339.5" r="2.08"/><circle cx="472.5" cy="341.5" r="2.08"/><circle cx="472.5" cy="342.5" r="2.08"/><circle cx="473.5" cy="340.5" r="2.08"/><circle cx="473.5" cy="332.5" r="2.08"/><circle cx="473.5" cy="333.5" r="2.08"/>
<circle cx="473.5" cy="345.5" r="2.08"/><circle cx="473.5" cy="339.5" r="2.08"/><circle cx="473.5" cy="329.5" r="2.08"/><circle cx="474.5" cy="336.5" r="2.08"/><circle cx="474.5" cy="347.5" r="2.08"/><circle cx="474.5" cy="341.5" r="2.08"/>
<circle cx="474.5" cy="344.5" r="2.08"/><circle cx="475.5" cy="330.5" r="2.08"/><circle cx="475.5" cy="340.5" r="2.08"/><circle cx="475.5" cy="338.5" r="2.08"/><circle cx="475.5" cy="334.5" r="2.08"/><circle cx="475.5" cy="329.5" r="2.08"/>
<circle cx="475.5" cy="333.5" r="2.08"/><circle cx="475.5" cy="347.5" r="2.08"/><circle cx="476.5" cy="344.5" r="2.08"/><circle cx="476.5" cy="342.5" r="2.08"/><circle cx="476.5" cy="346.5" r="2.08"/><circle cx="476.5" cy="335.5" r="2.08"/>
<circle cx="476.5" cy="332.5" r="2.08"/><circle cx="477.5" cy="342.5" r="2.08"/><circle cx="477.5" cy="344.5" r="2.08"/><circle cx="477.5" cy="345.5" r="2.08"/><circle cx="477.5" cy="341.5" r="2.08"/><circle cx="477.5" cy="343.5" r="2.08"/>
<circle cx="478.5" cy="344.5" r="2.08"/><circle cx="478.5" cy="348.5" r="2.08"/><circle cx="478.5" cy="334.5" r="2.08"/><circle cx="478.5" cy="350.5" r="2.08"/><circle cx="478.5" cy="340.5" r="2.08"/><circle cx="478.5" cy="354.5" r="2.08"/>
<circle cx="478.5" cy="346.5" r="2.08"/><circle cx="479.5" cy="352.5" r="2.08"/><circle cx="479.5" cy="344.5" r="2.08"/><circle cx="479.5" cy="336.5" r="2.08"/><circle cx="479.5" cy="347.5" r="2.08"/><circle cx="479.5" cy="348.5" r="2.08"/>
<circle cx="480.5" cy="336.5" r="2.08"/><circle cx="480.5" cy="355.5" r="2.08"/><circle cx="480.5" cy="340.5" r="2.08"/><circle cx="480.5" cy="347.5" r="2.08"/><circle cx="480.5" cy="346.5" r="2.08"/><circle cx="480.5" cy="351.5" r="2.08"/>
<circle cx="481.5" cy="349.5" r="2.08"/><circle cx="481.5" cy="353.5" r="2.08"/><circle cx="481.5" cy="345.5" r="2.08"/><circle cx="481.5" cy="350.5" r="2.08"/><circle cx="481.5" cy="346.5" r="2.08"/><circle cx="481.5" cy="344.5" r="2.08"/>
<circle cx="481.5" cy="342.5" r="2.08"/><circle cx="482.5" cy="349.5" r="2.08"/><circle cx="482.5" cy="346.5" r="2.08"/><circle cx="482.5" cy="347.5" r="2.08"/><circle cx="482.5" cy="345.5" r="2.08"/><circle cx="482.5" cy="360.5" r="2.08"/>
<circle cx="483.5" cy="350.5" r="2.08"/><circle cx="483.5" cy="345.5" r="2.08"/><circle cx="483.5" cy="351.5" r="2.08"/><circle cx="483.5" cy="344.5" r="2.08"/><circle cx="483.5" cy="355.5" r="2.08"/><circle cx="484.5" cy="344.5" r="2.08"/>
<circle cx="484.5" cy="353.5" r="2.08"/><circle cx="484.5" cy="349.5" r="2.08"/><circle cx="484.5" cy="348.5" r="2.08"/><circle cx="484.5" cy="362.5" r="2.08"/><circle cx="484.5" cy="345.5" r="2.08"/><circle cx="485.5" cy="350.5" r="2.08"/>
<circle cx="485.5" cy="346.5" r="2.08"/><circle cx="485.5" cy="357.5" r="2.08"/><circle cx="485.5" cy="354.5" r="2.08"/><circle cx="485.5" cy="347.5" r="2.08"/><circle cx="485.5" cy="360.5" r="2.08"/><circle cx="486.5" cy="344.5" r="2.08"/>
<circle cx="486.5" cy="347.5" r="2.08"/><circle cx="486.5" cy="357.5" r="2.08"/><circle cx="486.5" cy="355.5" r="2.08"/><circle cx="486.5" cy="354.5" r="2.08"/><circle cx="486.5" cy="348.5" r="2.08"/><circle cx="487.5" cy="352.5" r="2.08"/>
<circle cx="487.5" cy="350.5" r="2.08"/><circle cx="487.5" cy="357.5" r="2.08"/><circle cx="487.5" cy="354.5" r="2.08"/><circle cx="487.5" cy="348.5" r="2.08"/><circle cx="487.5" cy="344.5" r="2.08"/><circle cx="488.5" cy="354.5" r="2.08"/>
<circle cx="488.5" cy="350.5" r="2.08"/><circle cx="488.5" cy="356.5" r="2.08"/><circle cx="488.5" cy="345.5" r="2.08"/><circle cx="488.5" cy="355.5" r="2.08"/><circle cx="488.5" cy="351.5" r="2.08"/><circle cx="489.5" cy="355.5" r="2.08"/>
<circle cx="489.5" cy="350.5" r="2.08"/><circle cx="489.5" cy="363.5" r="2.08"/><circle cx="489.5" cy="358.5" r="2.08"/><circle cx="489.5" cy="349.5" r="2.08"/><circle cx="490.5" cy="359.5" r="2.08"/><circle cx="490.5" cy="353.5" r="2.08"/>
<circle cx="490.5" cy="360.5" r="2.08"/><circle cx="490.5" cy="358.5" r="2.08"/><circle cx="490.5" cy="354.5" r="2.08"/><circle cx="490.5" cy="357.5" r="2.08"/><circle cx="490.5" cy="347.5" r="2.08"/><circle cx="491.5" cy="350.5" r="2.08"/>
<circle cx="491.5" cy="362.5" r="2.08"/><circle cx="491.5" cy="354.5" r="2.08"/><circle cx="491.5" cy="348.5" r="2.08"/><circle cx="491.5" cy="357.5" r="2.08"/><circle cx="491.5" cy="358.5" r="2.08"/><circle cx="492.5" cy="359.5" r="2.08"/>
<circle cx="492.5" cy="350.5" r="2.08"/><circle cx="492.5" cy="364.5" r="2.08"/><circle cx="492.5" cy="349.5" r="2.08"/><circle cx="493.5" cy="364.5" r="2.08"/><circle cx="493.5" cy="362.5" r="2.08"/><circle cx="493.5" cy="352.5" r="2.08"/>
<circle cx="493.5" cy="355.5" r="2.08"/><circle cx="493.5" cy="359.5" r="2.08"/><circle cx="493.5" cy="361.5" r="2.08"/><circle cx="494.5" cy="359.5" r="2.08"/><circle cx="494.5" cy="348.5" r="2.08"/><circle cx="494.5" cy="366.5" r="2.08"/>
<circle cx="494.5" cy="356.5" r="2.08"/><circle cx="494.5" cy="358.5" r="2.08"/><circle cx="495.5" cy="356.5" r="2.08"/><circle cx="495.5" cy="361.5" r="2.08"/><circle cx="495.5" cy="364.5" r="2.08"/><circle cx="495.5" cy="354.5" r="2.08"/>
<circle cx="495.5" cy="358.5" r="2.08"/><circle cx="496.5" cy="368.5" r="2.08"/><circle cx="496.5" cy="365.5" r="2.08"/><circle cx="496.5" cy="363.5" r="2.08"/><circle cx="496.5" cy="361.5" r="2.08"/><circle cx="496.5" cy="362.5" r="2.08"/>
<circle cx="496.5" cy="357.5" r="2.08"/><circle cx="497.5" cy="367.5" r="2.08"/><circle cx="497.5" cy="357.5" r="2.08"/><circle cx="497.5" cy="363.5" r="2.08"/><circle cx="497.5" cy="362.5" r="2.08"/><circle cx="497.5" cy="368.5" r="2.08"/>
<circle cx="497.5" cy="374.5" r="2.08"/><circle cx="498.5" cy="361.5" r="2.08"/><circle cx="498.5" cy="362.5" r="2.08"/><circle cx="498.5" cy="371.5" r="2.08"/><circle cx="498.5" cy="360.5" r="2.08"/><circle cx="498.5" cy="351.5" r="2.08"/>
<circle cx="498.5" cy="367.5" r="2.08"/><circle cx="499.5" cy="363.5" r="2.08"/><circle cx="499.5" cy="360.5" r="2.08"/><circle cx="499.5" cy="369.5" r="2.08"/><circle cx="499.5" cy="371.5" r="2.08"/><circle cx="500.5" cy="363.5" r="2.08"/>
<circle cx="500.5" cy="358.5" r="2.08"/><circle cx="500.5" cy="359.5" r="2.08"/><circle cx="500.5" cy="362.5" r="2.08"/><circle cx="500.5" cy="373.5" r="2.08"/><circle cx="501.5" cy="366.5" r="2.08"/><circle cx="501.5" cy="355.5" r="2.08"/>
<circle cx="501.5" cy="364.5" r="2.08"/><circle cx="501.5" cy="365.5" r="2.08"/><circle cx="501.5" cy="367.5" r="2.08"/><circle cx="501.5" cy="368.5" r="2.08"/><circle cx="502.5" cy="370.5" r="2.08"/><circle cx="502.5" cy="367.5" r="2.08"/>
<circle cx="502.5" cy="369.5" r="2.08"/><circle cx="503.5" cy="371.5" r="2.08"/><circle cx="503.5" cy="368.5" r="2.08"/><circle cx="503.5" cy="379.5" r="2.08"/><circle cx="503.5" cy="374.5" r="2.08"/><circle cx="503.5" cy="373.5" r="2.08"/>
<circle cx="504.5" cy="384.5" r="2.08"/><circle cx="504.5" cy="362.5" r="2.08"/><circle cx="504.5" cy="381.5" r="2.08"/><circle cx="504.5" cy="376.5" r="2.08"/><circle cx="504.5" cy="372.5" r="2.08"/><circle cx="504.5" cy="369.5" r="2.08"/>
<circle cx="505.5" cy="380.5" r="2.08"/><circle cx="505.5" cy="363.5" r="2.08"/><circle cx="505.5" cy="379.5" r="2.08"/><circle cx="505.5" cy="373.5" r="2.08"/><circle cx="505.5" cy="371.5" r="2.08"/><circle cx="506.5" cy="384.5" r="2.08"/>
<circle cx="506.5" cy="371.5" r="2.08"/><circle cx="506.5" cy="362.5" r="2.08"/><circle cx="506.5" cy="386.5" r="2.08"/><circle cx="506.5" cy="370.5" r="2.08"/><circle cx="506.5" cy="373.5" r="2.08"/><circle cx="506.5" cy="374.5" r="2.08"/>
<circle cx="507.5" cy="372.5" r="2.08"/><circle cx="507.5" cy="375.5" r="2.08"/><circle cx="507.5" cy="370.5" r="2.08"/><circle cx="507.5" cy="385.5" r="2.08"/><circle cx="507.5" cy="368.5" r="2.08"/><circle cx="507.5" cy="377.5" r="2.08"/>
<circle cx="508.5" cy="381.5" r="2.08"/><circle cx="508.5" cy="364.5" r="2.08"/><circle cx="508.5" cy="379.5" r="2.08"/><circle cx="508.5" cy="365.5" r="2.08"/><circle cx="508.5" cy="369.5" r="2.08"/><circle cx="508.5" cy="370.5" r="2.08"/>
<circle cx="509.5" cy="380.5" r="2.08"/><circle cx="509.5" cy="370.5" r="2.08"/><circle cx="509.5" cy="374.5" r="2.08"/><circle cx="509.5" cy="386.5" r="2.08"/><circle cx="509.5" cy="379.5" r="2.08"/><circle cx="510.5" cy="363.5" r="2.08"/>
<circle cx="510.5" cy="378.5" r="2.08"/><circle cx="510.5" cy="366.5" r="2.08"/><circle cx="510.5" cy="360.5" r="2.08"/><circle cx="511.5" cy="376.5" r="2.08"/><circle cx="511.5" cy="372.5" r="2.08"/><circle cx="511.5" cy="370.5" r="2.08"/>
<circle cx="511.5" cy="366.5" r="2.08"/><circle cx="511.5" cy="383.5" r="2.08"/><circle cx="511.5" cy="368.5" r="2.08"/><circle cx="512.5" cy="373.5" r="2.08"/><circle cx="512.5" cy="378.5" r="2.08"/><circle cx="512.5" cy="377.5" r="2.08"/>
<circle cx="512.5" cy="379.5" r="2.08"/><circle cx="512.5" cy="369.5" r="2.08"/><circle cx="512.5" cy="383.5" r="2.08"/><circle cx="513.5" cy="384.5" r="2.08"/><circle cx="513.5" cy="383.5" r="2.08"/><circle cx="513.5" cy="376.5" r="2.08"/>
<circle cx="513.5" cy="374.5" r="2.08"/><circle cx="513.5" cy="378.5" r="2.08"/><circle cx="513.5" cy="377.5" r="2.08"/><circle cx="514.5" cy="390.5" r="2.08"/><circle cx="514.5" cy="387.5" r="2.08"/><circle cx="514.5" cy="370.5" r="2.08"/>
<circle cx="514.5" cy="371.5" r="2.08"/><circle cx="514.5" cy="379.5" r="2.08"/><circle cx="515.5" cy="382.5" r="2.08"/><circle cx="515.5" cy="378.5" r="2.08"/><circle cx="515.5" cy="383.5" r="2.08"/><circle cx="515.5" cy="389.5" r="2.08"/>
<circle cx="515.5" cy="386.5" r="2.08"/><circle cx="515.5" cy="376.5" r="2.08"/><circle cx="516.5" cy="377.5" r="2.08"/><circle cx="516.5" cy="374.5" r="2.08"/><circle cx="516.5" cy="391.5" r="2.08"/><circle cx="516.5" cy="378.5" r="2.08"/>
<circle cx="516.5" cy="382.5" r="2.08"/><circle cx="516.5" cy="383.5" r="2.08"/><circle cx="517.5" cy="385.5" r="2.08"/><circle cx="517.5" cy="376.5" r="2.08"/><circle cx="517.5" cy="372.5" r="2.08"/><circle cx="517.5" cy="382.5" r="2.08"/>
<circle cx="517.5" cy="381.5" r="2.08"/><circle cx="518.5" cy="391.5" r="2.08"/><circle cx="518.5" cy="381.5" r="2.08"/><circle cx="518.5" cy="385.5" r="2.08"/><circle cx="518.5" cy="378.5" r="2.08"/><circle cx="518.5" cy="392.5" r="2.08"/>
<circle cx="518.5" cy="386.5" r="2.08"/><circle cx="518.5" cy="384.5" r="2.08"/><circle cx="519.5" cy="382.5" r="2.08"/><circle cx="519.5" cy="380.5" r="2.08"/><circle cx="519.5" cy="386.5" r="2.08"/><circle cx="519.5" cy="381.5" r="2.08"/>
<circle cx="519.5" cy="379.5" r="2.08"/><circle cx="520.5" cy="381.5" r="2.08"/><circle cx="520.5" cy="383.5" r="2.08"/><circle cx="520.5" cy="379.5" r="2.08"/><circle cx="520.5" cy="391.5" r="2.08"/><circle cx="521.5" cy="382.5" r="2.08"/>
<circle cx="521.5" cy="389.5" r="2.08"/><circle cx="521.5" cy="385.5" r="2.08"/><circle cx="521.5" cy="381.5" r="2.08"/><circle cx="521.5" cy="375.5" r="2.08"/><circle cx="522.5" cy="389.5" r="2.08"/><circle cx="522.5" cy="391.5" r="2.08"/>
<circle cx="522.5" cy="390.5" r="2.08"/><circle cx="522.5" cy="382.5" r="2.08"/><circle cx="522.5" cy="375.5" r="2.08"/><circle cx="522.5" cy="379.5" r="2.08"/><circle cx="523.5" cy="385.5" r="2.08"/><circle cx="523.5" cy="387.5" r="2.08"/>
<circle cx="523.5" cy="380.5" r="2.08"/><circle cx="523.5" cy="376.5" r="2.08"/><circle cx="524.5" cy="385.5" r="2.08"/><circle cx="524.5" cy="379.5" r="2.08"/><circle cx="524.5" cy="384.5" r="2.08"/><circle cx="524.5" cy="380.5" r="2.08"/>
<circle cx="524.5" cy="375.5" r="2.08"/><circle cx="524.5" cy="383.5" r="2.08"/><circle cx="525.5" cy="383.5" r="2.08"/><circle cx="525.5" cy="379.5" r="2.08"/><circle cx="525.5" cy="387.5" r="2.08"/><circle cx="525.5" cy="385.5" r="2.08"/>
<circle cx="525.5" cy="382.5" r="2.08"/><circle cx="526.5" cy="375.5" r="2.08"/><circle cx="526.5" cy="382.5" r="2.08"/><circle cx="526.5" cy="383.5" r="2.08"/><circle cx="526.5" cy="385.5" r="2.08"/><circle cx="526.5" cy="377.5" r="2.08"/>
<circle cx="526.5" cy="380.5" r="2.08"/><circle cx="527.5" cy="375.5" r="2.08"/><circle cx="527.5" cy="379.5" r="2.08"/><circle cx="527.5" cy="380.5" r="2.08"/><circle cx="527.5" cy="383.5" r="2.08"/><circle cx="528.5" cy="377.5" r="2.08"/>
<circle cx="528.5" cy="381.5" r="2.08"/><circle cx="528.5" cy="387.5" r="2.08"/><circle cx="528.5" cy="375.5" r="2.08"/><circle cx="528.5" cy="376.5" r="2.08"/><circle cx="529.5" cy="379.5" r="2.08"/><circle cx="529.5" cy="382.5" r="2.08"/>
<circle cx="529.5" cy="378.5" r="2.08"/><circle cx="529.5" cy="380.5" r="2.08"/><circle cx="529.5" cy="381.5" r="2.08"/><circle cx="530.5" cy="387.5" r="2.08"/><circle cx="530.5" cy="375.5" r="2.08"/><circle cx="530.5" cy="373.5" r="2.08"/>
<circle cx="530.5" cy="389.5" r="2.08"/><circle cx="530.5" cy="380.5" r="2.08"/><circle cx="530.5" cy="382.5" r="2.08"/><circle cx="530.5" cy="384.5" r="2.08"/><circle cx="531.5" cy="383.5" r="2.08"/><circle cx="531.5" cy="375.5" r="2.08"/>
<circle cx="531.5" cy="380.5" r="2.08"/><circle cx="531.5" cy="384.5" r="2.08"/><circle cx="531.5" cy="377.5" r="2.08"/><circle cx="532.5" cy="389.5" r="2.08"/><circle cx="532.5" cy="385.5" r="2.08"/><circle cx="532.5" cy="384.5" r="2.08"/>
<circle cx="532.5" cy="378.5" r="2.08"/><circle cx="532.5" cy="388.5" r="2.08"/><circle cx="532.5" cy="381.5" r="2.08"/><circle cx="533.5" cy="381.5" r="2.08"/><circle cx="533.5" cy="386.5" r="2.08"/><circle cx="533.5" cy="380.5" r="2.08"/>
<circle cx="533.5" cy="391.5" r="2.08"/><circle cx="534.5" cy="372.5" r="2.08"/><circle cx="534.5" cy="385.5" r="2.08"/><circle cx="534.5" cy="379.5" r="2.08"/><circle cx="534.5" cy="383.5" r="2.08"/><circle cx="534.5" cy="376.5" r="2.08"/>
<circle cx="535.5" cy="379.5" r="2.08"/><circle cx="535.5" cy="385.5" r="2.08"/><circle cx="535.5" cy="382.5" r="2.08"/><circle cx="535.5" cy="390.5" r="2.08"/><circle cx="535.5" cy="387.5" r="2.08"/><circle cx="536.5" cy="379.5" r="2.08"/>
<circle cx="536.5" cy="382.5" r="2.08"/><circle cx="536.5" cy="388.5" r="2.08"/><circle cx="536.5" cy="390.5" r="2.08"/><circle cx="536.5" cy="387.5" r="2.08"/><circle cx="536.5" cy="372.5" r="2.08"/><circle cx="537.5" cy="377.5" r="2.08"/>
<circle cx="537.5" cy="393.5" r="2.08"/><circle cx="537.5" cy="391.5" r="2.08"/><circle cx="537.5" cy="380.5" r="2.08"/><circle cx="538.5" cy="386.5" r="2.08"/><circle cx="538.5" cy="387.5" r="2.08"/><circle cx="538.5" cy="388.5" r="2.08"/>
<circle cx="538.5" cy="385.5" r="2.08"/><circle cx="538.5" cy="389.5" r="2.08"/><circle cx="539.5" cy="382.5" r="2.08"/><circle cx="539.5" cy="376.5" r="2.08"/><circle cx="539.5" cy="385.5" r="2.08"/><circle cx="540.5" cy="380.5" r="2.08"/>
<circle cx="540.5" cy="387.5" r="2.08"/><circle cx="540.5" cy="392.5" r="2.08"/><circle cx="540.5" cy="385.5" r="2.08"/><circle cx="540.5" cy="388.5" r="2.08"/><circle cx="541.5" cy="387.5" r="2.08"/><circle cx="541.5" cy="386.5" r="2.08"/>
<circle cx="541.5" cy="380.5" r="2.08"/><circle cx="541.5" cy="394.5" r="2.08"/><circle cx="541.5" cy="384.5" r="2.08"/><circle cx="542.5" cy="390.5" r="2.08"/><circle cx="542.5" cy="382.5" r="2.08"/><circle cx="542.5" cy="391.5" r="2.08"/>
<circle cx="542.5" cy="381.5" r="2.08"/><circle cx="542.5" cy="380.5" r="2.08"/><circle cx="542.5" cy="392.5" r="2.08"/><circle cx="543.5" cy="395.5" r="2.08"/><circle cx="543.5" cy="384.5" r="2.08"/><circle cx="543.5" cy="383.5" r="2.08"/>
<circle cx="543.5" cy="387.5" r="2.08"/><circle cx="544.5" cy="389.5" r="2.08"/><circle cx="544.5" cy="384.5" r="2.08"/><circle cx="544.5" cy="382.5" r="2.08"/><circle cx="544.5" cy="387.5" r="2.08"/><circle cx="544.5" cy="391.5" r="2.08"/>
<circle cx="545.5" cy="384.5" r="2.08"/><circle cx="545.5" cy="388.5" r="2.08"/><circle cx="545.5" cy="392.5" r="2.08"/><circle cx="545.5" cy="387.5" r="2.08"/><circle cx="545.5" cy="390.5" r="2.08"/><circle cx="546.5" cy="398.5" r="2.08"/>
<circle cx="546.5" cy="388.5" r="2.08"/><circle cx="546.5" cy="386.5" r="2.08"/><circle cx="546.5" cy="394.5" r="2.08"/><circle cx="547.5" cy="391.5" r="2.08"/><circle cx="547.5" cy="394.5" r="2.08"/><circle cx="547.5" cy="390.5" r="2.08"/>
<circle cx="547.5" cy="395.5" r="2.08"/><circle cx="548.5" cy="393.5" r="2.08"/><circle cx="548.5" cy="392.5" r="2.08"/><circle cx="548.5" cy="400.5" r="2.08"/><circle cx="548.5" cy="399.5" r="2.08"/><circle cx="549.5" cy="398.5" r="2.08"/>
<circle cx="549.5" cy="403.5" r="2.08"/><circle cx="549.5" cy="402.5" r="2.08"/><circle cx="549.5" cy="392.5" r="2.08"/><circle cx="549.5" cy="399.5" r="2.08"/><circle cx="550.5" cy="401.5" r="2.08"/><circle cx="550.5" cy="405.5" r="2.08"/>
<circle cx="550.5" cy="388.5" r="2.08"/><circle cx="550.5" cy="400.5" r="2.08"/><circle cx="550.5" cy="395.5" r="2.08"/><circle cx="551.5" cy="390.5" r="2.08"/><circle cx="551.5" cy="392.5" r="2.08"/><circle cx="551.5" cy="391.5" r="2.08"/>
<circle cx="551.5" cy="393.5" r="2.08"/><circle cx="551.5" cy="401.5" r="2.08"/><circle cx="551.5" cy="402.5" r="2.08"/><circle cx="551.5" cy="400.5" r="2.08"/><circle cx="552.5" cy="400.5" r="2.08"/><circle cx="552.5" cy="396.5" r="2.08"/>
<circle cx="552.5" cy="404.5" r="2.08"/><circle cx="552.5" cy="398.5" r="2.08"/><circle cx="553.5" cy="400.5" r="2.08"/><circle cx="553.5" cy="398.5" r="2.08"/><circle cx="553.5" cy="399.5" r="2.08"/><circle cx="103.5" cy="100.5" r="2.08"/>
<circle cx="105.5" cy="101.5" r="2.08"/><circle cx="108.5" cy="100.5" r="2.08"/><circle cx="111.5" cy="96.5" r="2.08"/><circle cx="114.5" cy="98.5" r="2.08"/><circle cx="116.5" cy="96.5" r="2.08"/><circle cx="119.5" cy="98.5" r="2.08"/>
<circle cx="123.5" cy="101.5" r="2.08"/><circle cx="126.5" cy="102.5" r="2.08"/><circle cx="130.5" cy="106.5" r="2.08"/><circle cx="135.5" cy="112.5" r="2.08"/><circle cx="138.5" cy="118.5" r="2.08"/><circle cx="142.5" cy="122.5" r="2.08"/>
<circle cx="148.5" cy="124.5" r="2.08"/><circle cx="155.5" cy="125.5" r="2.08"/><circle cx="160.5" cy="131.5" r="2.08"/><circle cx="166.5" cy="139.5" r="2.08"/><circle cx="170.5" cy="130.5" r="2.08"/><circle cx="175.5" cy="128.5" r="2.08"/>
<circle cx="178.5" cy="138.5" r="2.08"/><circle cx="181.5" cy="150.5" r="2.08"/><circle cx="187.5" cy="150.5" r="2.08"/><circle cx="190.5" cy="150.5" r="2.08"/><circle cx="197.5" cy="149.5" r="2.08"/><circle cx="201.5" cy="153.5" r="2.08"/>
<circle cx="201.5" cy="156.5" r="2.08"/><circle cx="206.5" cy="162.5" r="2.08"/><circle cx="212.5" cy="163.5" r="2.08"/><circle cx="214.5" cy="168.5" r="2.08"/><circle cx="219.5" cy="174.5" r="2.08"/><circle cx="220.5" cy="175.5" r="2.08"/>
<circle cx="226.5" cy="176.5" r="2.08"/><circle cx="230.5" cy="176.5" r="2.08"/><circle cx="236.5" cy="181.5" r="2.08"/><circle cx="241.5" cy="181.5" r="2.08"/><circle cx="245.5" cy="176.5" r="2.08"/><circle cx="246.5" cy="182.5" r="2.08"/>
<circle cx="248.5" cy="191.5" r="2.08"/><circle cx="253.5" cy="196.5" r="2.08"/><circle cx="256.5" cy="197.5" r="2.08"/><circle cx="260.5" cy="198.5" r="2.08"/><circle cx="267.5" cy="192.5" r="2.08"/><circle cx="269.5" cy="195.5" r="2.08"/>
<circle cx="272.5" cy="197.5" r="2.08"/><circle cx="273.5" cy="200.5" r="2.08"/><circle cx="279.5" cy="206.5" r="2.08"/><circle cx="283.5" cy="206.5" r="2.08"/><circle cx="285.5" cy="214.5" r="2.08"/><circle cx="291.5" cy="218.5" r="2.08"/>
<circle cx="297.5" cy="218.5" r="2.08"/><circle cx="302.5" cy="222.5" r="2.08"/><circle cx="309.5" cy="228.5" r="2.08"/><circle cx="316.5" cy="224.5" r="2.08"/><circle cx="316.5" cy="228.5" r="2.08"/><circle cx="322.5" cy="234.5" r="2.08"/>
<circle cx="325.5" cy="238.5" r="2.08"/><circle cx="326.5" cy="244.5" r="2.08"/><circle cx="328.5" cy="251.5" r="2.08"/><circle cx="331.5" cy="254.5" r="2.08"/><circle cx="334.5" cy="252.5" r="2.08"/><circle cx="336.5" cy="250.5" r="2.08"/>
<circle cx="338.5" cy="257.5" r="2.08"/><circle cx="344.5" cy="262.5" r="2.08"/><circle cx="349.5" cy="258.5" r="2.08"/><circle cx="352.5" cy="252.5" r="2.08"/><circle cx="352.5" cy="256.5" r="2.08"/><circle cx="356.5" cy="260.5" r="2.08"/>
<circle cx="361.5" cy="261.5" r="2.08"/><circle cx="365.5" cy="264.5" r="2.08"/><circle cx="370.5" cy="263.5" r="2.08"/><circle cx="375.5" cy="268.5" r="2.08"/><circle cx="382.5" cy="268.5" r="2.08"/><circle cx="385.5" cy="274.5" r="2.08"/>
<circle cx="390.5" cy="279.5" r="2.08"/><circle cx="391.5" cy="285.5" r="2.08"/><circle cx="393.5" cy="291.5" r="2.08"/><circle cx="398.5" cy="297.5" r="2.08"/><circle cx="398.5" cy="300.5" r="2.08"/><circle cx="398.5" cy="313.5" r="2.08"/>
<circle cx="404.5" cy="313.5" r="2.08"/><circle cx="404.5" cy="300.5" r="2.08"/><circle cx="405.5" cy="300.5" r="2.08"/><circle cx="409.5" cy="300.5" r="2.08"/><circle cx="413.5" cy="300.5" r="2.08"/><circle cx="103.5" cy="113.5" r="2.08"/>
<circle cx="106.5" cy="118.5" r="2.08"/><circle cx="113.5" cy="120.5" r="2.08"/><circle cx="118.5" cy="122.5" r="2.08"/><circle cx="122.5" cy="132.5" r="2.08"/><circle cx="129.5" cy="139.5" r="2.08"/><circle cx="133.5" cy="144.5" r="2.08"/>
<circle cx="137.5" cy="152.5" r="2.08"/><circle cx="142.5" cy="151.5" r="2.08"/><circle cx="150.5" cy="156.5" r="2.08"/><circle cx="160.5" cy="158.5" r="2.08"/><circle cx="165.5" cy="165.5" r="2.08"/><circle cx="171.5" cy="163.5" r="2.08"/>
<circle cx="177.5" cy="168.5" r="2.08"/><circle cx="181.5" cy="170.5" r="2.08"/><circle cx="186.5" cy="178.5" r="2.08"/><circle cx="188.5" cy="172.5" r="2.08"/><circle cx="192.5" cy="179.5" r="2.08"/><circle cx="196.5" cy="180.5" r="2.08"/>
<circle cx="202.5" cy="181.5" r="2.08"/><circle cx="207.5" cy="188.5" r="2.08"/><circle cx="212.5" cy="193.5" r="2.08"/><circle cx="218.5" cy="197.5" r="2.08"/><circle cx="224.5" cy="199.5" r="2.08"/><circle cx="229.5" cy="202.5" r="2.08"/>
<circle cx="235.5" cy="205.5" r="2.08"/><circle cx="242.5" cy="206.5" r="2.08"/><circle cx="246.5" cy="214.5" r="2.08"/><circle cx="249.5" cy="223.5" r="2.08"/><circle cx="253.5" cy="221.5" r="2.08"/><circle cx="261.5" cy="221.5" r="2.08"/>
<circle cx="269.5" cy="226.5" r="2.08"/><circle cx="274.5" cy="233.5" r="2.08"/><circle cx="278.5" cy="228.5" r="2.08"/><circle cx="284.5" cy="234.5" r="2.08"/><circle cx="288.5" cy="240.5" r="2.08"/><circle cx="292.5" cy="246.5" r="2.08"/>
<circle cx="296.5" cy="250.5" r="2.08"/><circle cx="302.5" cy="251.5" r="2.08"/><circle cx="306.5" cy="247.5" r="2.08"/><circle cx="310.5" cy="251.5" r="2.08"/><circle cx="318.5" cy="251.5" r="2.08"/><circle cx="324.5" cy="256.5" r="2.08"/>
<circle cx="325.5" cy="261.5" r="2.08"/><circle cx="326.5" cy="264.5" r="2.08"/><circle cx="328.5" cy="272.5" r="2.08"/><circle cx="331.5" cy="276.5" r="2.08"/><circle cx="339.5" cy="280.5" r="2.08"/><circle cx="346.5" cy="290.5" r="2.08"/>
<circle cx="349.5" cy="288.5" r="2.08"/><circle cx="353.5" cy="288.5" r="2.08"/><circle cx="359.5" cy="293.5" r="2.08"/><circle cx="366.5" cy="294.5" r="2.08"/><circle cx="370.5" cy="287.5" r="2.08"/><circle cx="376.5" cy="291.5" r="2.08"/>
<circle cx="378.5" cy="293.5" r="2.08"/><circle cx="380.5" cy="294.5" r="2.08"/><circle cx="385.5" cy="298.5" r="2.08"/><circle cx="393.5" cy="306.5" r="2.08"/><circle cx="393.5" cy="315.5" r="2.08"/><circle cx="398.5" cy="319.5" r="2.08"/>
<circle cx="402.5" cy="317.5" r="2.08"/><circle cx="407.5" cy="324.5" r="2.08"/><circle cx="410.5" cy="323.5" r="2.08"/><circle cx="413.5" cy="318.5" r="2.08"/><circle cx="446.5" cy="320.5" r="2.08"/><circle cx="446.5" cy="324.5" r="2.08"/>
<circle cx="446.5" cy="330.5" r="2.08"/><circle cx="450.5" cy="328.5" r="2.08"/><circle cx="453.5" cy="335.5" r="2.08"/><circle cx="460.5" cy="334.5" r="2.08"/><circle cx="464.5" cy="338.5" r="2.08"/><circle cx="468.5" cy="330.5" r="2.08"/>
<circle cx="471.5" cy="324.5" r="2.08"/><circle cx="475.5" cy="325.5" r="2.08"/><circle cx="478.5" cy="330.5" r="2.08"/><circle cx="482.5" cy="338.5" r="2.08"/><circle cx="489.5" cy="342.5" r="2.08"/><circle cx="494.5" cy="346.5" r="2.08"/>
<circle cx="502.5" cy="352.5" r="2.08"/><circle cx="503.5" cy="358.5" r="2.08"/><circle cx="509.5" cy="361.5" r="2.08"/><circle cx="511.5" cy="356.5" r="2.08"/><circle cx="514.5" cy="366.5" r="2.08"/><circle cx="517.5" cy="370.5" r="2.08"/>
<circle cx="525.5" cy="373.5" r="2.08"/><circle cx="529.5" cy="368.5" r="2.08"/><circle cx="531.5" cy="371.5" r="2.08"/><circle cx="536.5" cy="370.5" r="2.08"/><circle cx="544.5" cy="376.5" r="2.08"/><circle cx="546.5" cy="380.5" r="2.08"/>
<circle cx="550.5" cy="386.5" r="2.08"/><circle cx="552.5" cy="391.5" r="2.08"/><circle cx="553.5" cy="396.5" r="2.08"/><circle cx="446.5" cy="344.5" r="2.08"/><circle cx="447.5" cy="344.5" r="2.08"/><circle cx="451.5" cy="353.5" r="2.08"/>
<circle cx="456.5" cy="360.5" r="2.08"/><circle cx="458.5" cy="365.5" r="2.08"/><circle cx="462.5" cy="358.5" r="2.08"/><circle cx="468.5" cy="353.5" r="2.08"/><circle cx="468.5" cy="358.5" r="2.08"/><circle cx="471.5" cy="348.5" r="2.08"/>
<circle cx="476.5" cy="353.5" r="2.08"/><circle cx="480.5" cy="359.5" r="2.08"/><circle cx="485.5" cy="365.5" r="2.08"/><circle cx="491.5" cy="366.5" r="2.08"/><circle cx="495.5" cy="370.5" r="2.08"/><circle cx="497.5" cy="376.5" r="2.08"/>
<circle cx="502.5" cy="381.5" r="2.08"/><circle cx="503.5" cy="390.5" r="2.08"/><circle cx="507.5" cy="388.5" r="2.08"/><circle cx="514.5" cy="394.5" r="2.08"/><circle cx="520.5" cy="394.5" r="2.08"/><circle cx="522.5" cy="399.5" r="2.08"/>
<circle cx="526.5" cy="390.5" r="2.08"/><circle cx="531.5" cy="395.5" r="2.08"/><circle cx="537.5" cy="396.5" r="2.08"/><circle cx="542.5" cy="398.5" r="2.08"/><circle cx="547.5" cy="402.5" r="2.08"/><circle cx="549.5" cy="410.5" r="2.08"/>
<circle cx="552.5" cy="407.5" r="2.08"/><circle cx="126.5" cy="74.5" r="2.08"/><circle cx="127.5" cy="87.5" r="2.08"/><circle cx="126.5" cy="91.5" r="2.08"/><circle cx="109.5" cy="127.5" r="2.08"/><circle cx="187.5" cy="143.5" r="2.08"/>
<circle cx="179.5" cy="182.5" r="2.08"/><circle cx="218.5" cy="203.5" r="2.08"/><circle cx="217.5" cy="207.5" r="2.08"/><circle cx="234.5" cy="214.5" r="2.08"/><circle cx="234.5" cy="220.5" r="2.08"/><circle cx="240.5" cy="213.5" r="2.08"/>
<circle cx="283.5" cy="201.5" r="2.08"/><circle cx="340.5" cy="289.5" r="2.08"/><circle cx="346.5" cy="295.5" r="2.08"/><circle cx="408.5" cy="341.5" r="2.08"/><circle cx="408.5" cy="354.5" r="2.08"/><circle cx="502.5" cy="343.5" r="2.08"/>
<circle cx="526.5" cy="354.5" r="2.08"/><circle cx="530.5" cy="353.5" r="2.08"/><circle cx="536.5" cy="361.5" r="2.08"/><circle cx="521.5" cy="401.5" r="2.08"/><circle cx="173.5" cy="133.5" r="2.08"/><circle cx="410.5" cy="319.5" r="2.08"/>
<circle cx="412.5" cy="321.5" r="2.08"/><circle cx="409.5" cy="322.5" r="2.08"/><circle cx="408.5" cy="320.5" r="2.08"/><circle cx="411.5" cy="308.5" r="2.08"/><circle cx="412.5" cy="314.5" r="2.08"/><circle cx="406.5" cy="310.5" r="2.08"/>
</g>
<g stroke="#000" stroke-width="1.111" fill="none">
<path d="M123.5 427.5v5.1"/><path d="M181.5 427.5v5.1"/><path d="M239.5 427.5v5.1"/><path d="M296.5 427.5v5.1"/><path d="M354.5 427.5v5.1"/><path d="M412.5 427.5v5.1"/><path d="M470.5 427.5v5.1"/><path d="M527.5 427.5v5.1"/>
<path d="M80.5 100.5h-5.1"/><path d="M80.5 148.5h-5.1"/><path d="M80.5 196.5h-5.1"/><path d="M80.5 244.5h-5.1"/><path d="M80.5 291.5h-5.1"/><path d="M80.5 339.5h-5.1"/><path d="M80.5 387.5h-5.1"/>
<path d="M80.5 58.5H576.5V427.5H80.5Z" stroke-linejoin="miter"/>
</g>
<g class="t10" text-anchor="middle">
<text x="123.53" y="448.00">2012</text><text x="180.48" y="448.00">2013</text><text x="238.60" y="448.00">2014</text><text x="296.55" y="448.00">2015</text><text x="353.60" y="448.00">2016</text><text x="411.62" y="448.00">2017</text><text x="469.63" y="448.00">2018</text><text x="527.54" y="448.00">2019</text>
</g>
<g class="t10">
<text x="40.85 49.3 53.2 62.2" y="106">0.00</text><text x="28.05 38.35" y="154">−0.01</text><text x="28.90 39.20" y="201">−0.02</text><text x="28.90 39.20" y="249">−0.03</text><text x="28.90 39.20" y="297">−0.04</text><text x="28.00 38.30" y="344">−0.05</text><text x="28.00 38.30" y="392">−0.06</text>
</g>
<text class="t10" text-anchor="middle" transform="translate(20.14 244.11) rotate(-90)">m</text>
<text class="t12" text-anchor="middle" x="328.15" y="49.00">TMBU N</text>
<rect x="377.55" y="65.50" width="191.85" height="24.50" rx="2.78" fill="#fff" fill-opacity="0.8" stroke="#ccc" stroke-opacity="0.65" stroke-width="1.2"/>
<circle cx="397.5" cy="76.5" r="2.08" fill="#f00" stroke="#f00" stroke-width="1.389"/>
<text class="t10" x="426.08 432.17 440.85 449.71 455.32 463.81 472.43 481.46 490.19 499.22 507.67 512.02 517.45 521.54 532.44 541.24 550.21 558.94" y="80.65">repro2018a (IGS14)</text>
</svg>
</body></html>
